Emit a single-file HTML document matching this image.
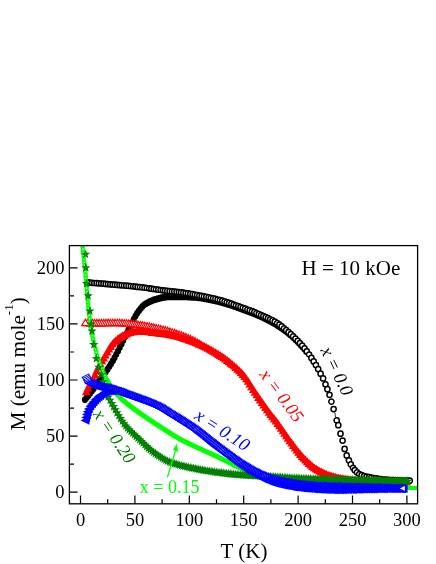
<!DOCTYPE html>
<html>
<head>
<meta charset="utf-8">
<title>M(T), H = 10 kOe</title>
<style>
html,body{margin:0;padding:0;background:#fff;}
body{width:436px;height:564px;overflow:hidden;}
svg{display:block;}

text{font-family:"Liberation Serif",serif;}
</style>
</head>
<body>
<svg width="436" height="564" viewBox="0 0 436 564">
<rect width="436" height="564" fill="#fff"/>
<defs><filter id="nf" x="0" y="0" width="436" height="564" filterUnits="userSpaceOnUse"><feOffset dx="0" dy="0"/></filter><clipPath id="c"><rect x="69.4" y="245.6" width="348.2" height="258.2"/></clipPath></defs>
<g clip-path="url(#c)">
<g fill="#000" fill-opacity="1" stroke="none" stroke-width="0" stroke-linejoin="miter"><path d="M82 399.6a3 3 0 1 0 5.9 0a3 3 0 1 0 -5.9 0zM83.8 397.6a3 3 0 1 0 5.9 0a3 3 0 1 0 -5.9 0zM85.5 395.5a3 3 0 1 0 5.9 0a3 3 0 1 0 -5.9 0zM87.2 393.4a3 3 0 1 0 5.9 0a3 3 0 1 0 -5.9 0zM89 391.1a3 3 0 1 0 5.9 0a3 3 0 1 0 -5.9 0zM90.7 388.7a3 3 0 1 0 5.9 0a3 3 0 1 0 -5.9 0zM92.5 386.1a3 3 0 1 0 5.9 0a3 3 0 1 0 -5.9 0zM94.2 383.6a3 3 0 1 0 5.9 0a3 3 0 1 0 -5.9 0zM95.9 381a3 3 0 1 0 5.9 0a3 3 0 1 0 -5.9 0zM97.7 378.6a3 3 0 1 0 5.9 0a3 3 0 1 0 -5.9 0zM99.4 376.3a3 3 0 1 0 5.9 0a3 3 0 1 0 -5.9 0zM101.2 374.1a3 3 0 1 0 5.9 0a3 3 0 1 0 -5.9 0zM102.9 371.7a3 3 0 1 0 5.9 0a3 3 0 1 0 -5.9 0zM104.6 369.2a3 3 0 1 0 5.9 0a3 3 0 1 0 -5.9 0zM106.4 366.5a3 3 0 1 0 5.9 0a3 3 0 1 0 -5.9 0zM108.1 363.7a3 3 0 1 0 5.9 0a3 3 0 1 0 -5.9 0zM109.9 360.8a3 3 0 1 0 5.9 0a3 3 0 1 0 -5.9 0zM111.6 357.7a3 3 0 1 0 5.9 0a3 3 0 1 0 -5.9 0zM113.3 354.4a3 3 0 1 0 5.9 0a3 3 0 1 0 -5.9 0zM115.1 351a3 3 0 1 0 5.9 0a3 3 0 1 0 -5.9 0zM116.8 347.5a3 3 0 1 0 5.9 0a3 3 0 1 0 -5.9 0zM118.6 344a3 3 0 1 0 5.9 0a3 3 0 1 0 -5.9 0zM120.3 340.5a3 3 0 1 0 5.9 0a3 3 0 1 0 -5.9 0zM122 336.9a3 3 0 1 0 5.9 0a3 3 0 1 0 -5.9 0zM123.8 333.4a3 3 0 1 0 5.9 0a3 3 0 1 0 -5.9 0zM125.5 329.9a3 3 0 1 0 5.9 0a3 3 0 1 0 -5.9 0zM127.3 326.4a3 3 0 1 0 5.9 0a3 3 0 1 0 -5.9 0zM129 322.7a3 3 0 1 0 5.9 0a3 3 0 1 0 -5.9 0zM130.8 319.2a3 3 0 1 0 5.9 0a3 3 0 1 0 -5.9 0zM132.5 316.1a3 3 0 1 0 5.9 0a3 3 0 1 0 -5.9 0zM134.2 313.3a3 3 0 1 0 5.9 0a3 3 0 1 0 -5.9 0zM136 310.8a3 3 0 1 0 5.9 0a3 3 0 1 0 -5.9 0zM137.7 308.6a3 3 0 1 0 5.9 0a3 3 0 1 0 -5.9 0zM139.5 306.5a3 3 0 1 0 5.9 0a3 3 0 1 0 -5.9 0zM141.2 304.9a3 3 0 1 0 5.9 0a3 3 0 1 0 -5.9 0zM142.9 303.7a3 3 0 1 0 5.9 0a3 3 0 1 0 -5.9 0zM144.7 302.7a3 3 0 1 0 5.9 0a3 3 0 1 0 -5.9 0zM146.4 301.8a3 3 0 1 0 5.9 0a3 3 0 1 0 -5.9 0zM148.2 301.1a3 3 0 1 0 5.9 0a3 3 0 1 0 -5.9 0zM149.9 300.4a3 3 0 1 0 5.9 0a3 3 0 1 0 -5.9 0zM151.6 299.8a3 3 0 1 0 5.9 0a3 3 0 1 0 -5.9 0zM153.4 299.2a3 3 0 1 0 5.9 0a3 3 0 1 0 -5.9 0zM155.1 298.8a3 3 0 1 0 5.9 0a3 3 0 1 0 -5.9 0zM156.9 298.3a3 3 0 1 0 5.9 0a3 3 0 1 0 -5.9 0zM158.6 297.9a3 3 0 1 0 5.9 0a3 3 0 1 0 -5.9 0zM160.3 297.5a3 3 0 1 0 5.9 0a3 3 0 1 0 -5.9 0zM162.1 297.2a3 3 0 1 0 5.9 0a3 3 0 1 0 -5.9 0zM163.8 296.9a3 3 0 1 0 5.9 0a3 3 0 1 0 -5.9 0zM165.6 296.7a3 3 0 1 0 5.9 0a3 3 0 1 0 -5.9 0zM167.3 296.7a3 3 0 1 0 5.9 0a3 3 0 1 0 -5.9 0zM169.1 296.7a3 3 0 1 0 5.9 0a3 3 0 1 0 -5.9 0zM170.8 296.7a3 3 0 1 0 5.9 0a3 3 0 1 0 -5.9 0zM172.5 296.7a3 3 0 1 0 5.9 0a3 3 0 1 0 -5.9 0zM174.3 296.7a3 3 0 1 0 5.9 0a3 3 0 1 0 -5.9 0zM176 296.7a3 3 0 1 0 5.9 0a3 3 0 1 0 -5.9 0zM177.8 296.7a3 3 0 1 0 5.9 0a3 3 0 1 0 -5.9 0zM179.5 296.7a3 3 0 1 0 5.9 0a3 3 0 1 0 -5.9 0zM181.2 296.8a3 3 0 1 0 5.9 0a3 3 0 1 0 -5.9 0zM183 296.8a3 3 0 1 0 5.9 0a3 3 0 1 0 -5.9 0zM184.7 296.9a3 3 0 1 0 5.9 0a3 3 0 1 0 -5.9 0zM186.5 297a3 3 0 1 0 5.9 0a3 3 0 1 0 -5.9 0zM188.2 297.1a3 3 0 1 0 5.9 0a3 3 0 1 0 -5.9 0zM189.9 297.2a3 3 0 1 0 5.9 0a3 3 0 1 0 -5.9 0zM191.7 297.3a3 3 0 1 0 5.9 0a3 3 0 1 0 -5.9 0zM193.4 297.4a3 3 0 1 0 5.9 0a3 3 0 1 0 -5.9 0zM195.2 297.6a3 3 0 1 0 5.9 0a3 3 0 1 0 -5.9 0zM196.9 297.8a3 3 0 1 0 5.9 0a3 3 0 1 0 -5.9 0zM198.6 298.1a3 3 0 1 0 5.9 0a3 3 0 1 0 -5.9 0zM200.4 298.4a3 3 0 1 0 5.9 0a3 3 0 1 0 -5.9 0zM202.1 298.7a3 3 0 1 0 5.9 0a3 3 0 1 0 -5.9 0zM203.9 299a3 3 0 1 0 5.9 0a3 3 0 1 0 -5.9 0zM205.6 299.4a3 3 0 1 0 5.9 0a3 3 0 1 0 -5.9 0zM207.3 299.7a3 3 0 1 0 5.9 0a3 3 0 1 0 -5.9 0zM209.1 300.1a3 3 0 1 0 5.9 0a3 3 0 1 0 -5.9 0zM210.8 300.5a3 3 0 1 0 5.9 0a3 3 0 1 0 -5.9 0zM212.6 300.9a3 3 0 1 0 5.9 0a3 3 0 1 0 -5.9 0zM214.3 301.3a3 3 0 1 0 5.9 0a3 3 0 1 0 -5.9 0zM216.1 301.7a3 3 0 1 0 5.9 0a3 3 0 1 0 -5.9 0zM217.8 302.2a3 3 0 1 0 5.9 0a3 3 0 1 0 -5.9 0zM219.5 302.6a3 3 0 1 0 5.9 0a3 3 0 1 0 -5.9 0zM221.3 303.1a3 3 0 1 0 5.9 0a3 3 0 1 0 -5.9 0zM223 303.6a3 3 0 1 0 5.9 0a3 3 0 1 0 -5.9 0zM224.8 304.2a3 3 0 1 0 5.9 0a3 3 0 1 0 -5.9 0zM226.5 304.7a3 3 0 1 0 5.9 0a3 3 0 1 0 -5.9 0zM228.2 305.3a3 3 0 1 0 5.9 0a3 3 0 1 0 -5.9 0zM230 305.9a3 3 0 1 0 5.9 0a3 3 0 1 0 -5.9 0zM231.7 306.5a3 3 0 1 0 5.9 0a3 3 0 1 0 -5.9 0zM233.5 307.1a3 3 0 1 0 5.9 0a3 3 0 1 0 -5.9 0zM235.2 307.8a3 3 0 1 0 5.9 0a3 3 0 1 0 -5.9 0zM236.9 308.4a3 3 0 1 0 5.9 0a3 3 0 1 0 -5.9 0zM238.7 309a3 3 0 1 0 5.9 0a3 3 0 1 0 -5.9 0zM240.4 309.7a3 3 0 1 0 5.9 0a3 3 0 1 0 -5.9 0zM242.2 310.3a3 3 0 1 0 5.9 0a3 3 0 1 0 -5.9 0zM243.9 311a3 3 0 1 0 5.9 0a3 3 0 1 0 -5.9 0zM245.6 311.6a3 3 0 1 0 5.9 0a3 3 0 1 0 -5.9 0zM247.4 312.3a3 3 0 1 0 5.9 0a3 3 0 1 0 -5.9 0zM249.1 312.9a3 3 0 1 0 5.9 0a3 3 0 1 0 -5.9 0zM250.9 313.6a3 3 0 1 0 5.9 0a3 3 0 1 0 -5.9 0zM252.6 314.3a3 3 0 1 0 5.9 0a3 3 0 1 0 -5.9 0zM254.3 315.1a3 3 0 1 0 5.9 0a3 3 0 1 0 -5.9 0zM256.1 315.8a3 3 0 1 0 5.9 0a3 3 0 1 0 -5.9 0zM257.8 316.6a3 3 0 1 0 5.9 0a3 3 0 1 0 -5.9 0zM259.6 317.4a3 3 0 1 0 5.9 0a3 3 0 1 0 -5.9 0zM261.3 318.3a3 3 0 1 0 5.9 0a3 3 0 1 0 -5.9 0zM263.1 319.1a3 3 0 1 0 5.9 0a3 3 0 1 0 -5.9 0zM264.8 320a3 3 0 1 0 5.9 0a3 3 0 1 0 -5.9 0zM266.5 320.9a3 3 0 1 0 5.9 0a3 3 0 1 0 -5.9 0zM268.3 321.9a3 3 0 1 0 5.9 0a3 3 0 1 0 -5.9 0zM270 322.9a3 3 0 1 0 5.9 0a3 3 0 1 0 -5.9 0zM271.8 323.9a3 3 0 1 0 5.9 0a3 3 0 1 0 -5.9 0zM273.5 324.9a3 3 0 1 0 5.9 0a3 3 0 1 0 -5.9 0zM275.2 326a3 3 0 1 0 5.9 0a3 3 0 1 0 -5.9 0zM277 327.1a3 3 0 1 0 5.9 0a3 3 0 1 0 -5.9 0zM278.7 328.3a3 3 0 1 0 5.9 0a3 3 0 1 0 -5.9 0zM280.5 329.5a3 3 0 1 0 5.9 0a3 3 0 1 0 -5.9 0zM282.2 330.8a3 3 0 1 0 5.9 0a3 3 0 1 0 -5.9 0zM283.9 332.1a3 3 0 1 0 5.9 0a3 3 0 1 0 -5.9 0zM285.7 333.5a3 3 0 1 0 5.9 0a3 3 0 1 0 -5.9 0zM287.4 335a3 3 0 1 0 5.9 0a3 3 0 1 0 -5.9 0zM289.2 336.5a3 3 0 1 0 5.9 0a3 3 0 1 0 -5.9 0zM290.9 338.1a3 3 0 1 0 5.9 0a3 3 0 1 0 -5.9 0zM292.6 339.8a3 3 0 1 0 5.9 0a3 3 0 1 0 -5.9 0zM294.4 341.5a3 3 0 1 0 5.9 0a3 3 0 1 0 -5.9 0zM296.1 343.3a3 3 0 1 0 5.9 0a3 3 0 1 0 -5.9 0zM297.9 345.2a3 3 0 1 0 5.9 0a3 3 0 1 0 -5.9 0zM299.6 347.1a3 3 0 1 0 5.9 0a3 3 0 1 0 -5.9 0zM301.4 349.1a3 3 0 1 0 5.9 0a3 3 0 1 0 -5.9 0zM303.1 351.3a3 3 0 1 0 5.9 0a3 3 0 1 0 -5.9 0zM404.7 481a3 3 0 1 0 5.9 0a3 3 0 1 0 -5.9 0z"/></g>
<path d="M334.8 412.4L335.6 417.4" stroke="#000" stroke-width="0.8" fill="none"/>
<g fill="#fff" fill-opacity="1" stroke="#000" stroke-width="1.5" stroke-linejoin="miter"><path d="M84.9 282.2a2.6 2.6 0 1 0 5.2 0a2.6 2.6 0 1 0 -5.2 0z"/>
<path d="M87.1 282.5a2.6 2.6 0 1 0 5.2 0a2.6 2.6 0 1 0 -5.2 0z"/>
<path d="M89.4 282.8a2.6 2.6 0 1 0 5.2 0a2.6 2.6 0 1 0 -5.2 0z"/>
<path d="M91.7 283a2.6 2.6 0 1 0 5.2 0a2.6 2.6 0 1 0 -5.2 0z"/>
<path d="M94 283.1a2.6 2.6 0 1 0 5.2 0a2.6 2.6 0 1 0 -5.2 0z"/>
<path d="M96.3 283.3a2.6 2.6 0 1 0 5.2 0a2.6 2.6 0 1 0 -5.2 0z"/>
<path d="M98.6 283.5a2.6 2.6 0 1 0 5.2 0a2.6 2.6 0 1 0 -5.2 0z"/>
<path d="M100.9 283.7a2.6 2.6 0 1 0 5.2 0a2.6 2.6 0 1 0 -5.2 0z"/>
<path d="M103.1 283.9a2.6 2.6 0 1 0 5.2 0a2.6 2.6 0 1 0 -5.2 0z"/>
<path d="M105.4 284.1a2.6 2.6 0 1 0 5.2 0a2.6 2.6 0 1 0 -5.2 0z"/>
<path d="M107.7 284.3a2.6 2.6 0 1 0 5.2 0a2.6 2.6 0 1 0 -5.2 0z"/>
<path d="M110 284.5a2.6 2.6 0 1 0 5.2 0a2.6 2.6 0 1 0 -5.2 0z"/>
<path d="M112.3 284.7a2.6 2.6 0 1 0 5.2 0a2.6 2.6 0 1 0 -5.2 0z"/>
<path d="M114.6 284.9a2.6 2.6 0 1 0 5.2 0a2.6 2.6 0 1 0 -5.2 0z"/>
<path d="M116.9 285.1a2.6 2.6 0 1 0 5.2 0a2.6 2.6 0 1 0 -5.2 0z"/>
<path d="M119.1 285.3a2.6 2.6 0 1 0 5.2 0a2.6 2.6 0 1 0 -5.2 0z"/>
<path d="M121.4 285.5a2.6 2.6 0 1 0 5.2 0a2.6 2.6 0 1 0 -5.2 0z"/>
<path d="M123.7 285.7a2.6 2.6 0 1 0 5.2 0a2.6 2.6 0 1 0 -5.2 0z"/>
<path d="M126 285.9a2.6 2.6 0 1 0 5.2 0a2.6 2.6 0 1 0 -5.2 0z"/>
<path d="M128.3 286.2a2.6 2.6 0 1 0 5.2 0a2.6 2.6 0 1 0 -5.2 0z"/>
<path d="M130.6 286.4a2.6 2.6 0 1 0 5.2 0a2.6 2.6 0 1 0 -5.2 0z"/>
<path d="M132.8 286.6a2.6 2.6 0 1 0 5.2 0a2.6 2.6 0 1 0 -5.2 0z"/>
<path d="M135.1 286.9a2.6 2.6 0 1 0 5.2 0a2.6 2.6 0 1 0 -5.2 0z"/>
<path d="M137.4 287.1a2.6 2.6 0 1 0 5.2 0a2.6 2.6 0 1 0 -5.2 0z"/>
<path d="M139.7 287.4a2.6 2.6 0 1 0 5.2 0a2.6 2.6 0 1 0 -5.2 0z"/>
<path d="M142 287.7a2.6 2.6 0 1 0 5.2 0a2.6 2.6 0 1 0 -5.2 0z"/>
<path d="M144.3 288a2.6 2.6 0 1 0 5.2 0a2.6 2.6 0 1 0 -5.2 0z"/>
<path d="M146.6 288.3a2.6 2.6 0 1 0 5.2 0a2.6 2.6 0 1 0 -5.2 0z"/>
<path d="M148.8 288.7a2.6 2.6 0 1 0 5.2 0a2.6 2.6 0 1 0 -5.2 0z"/>
<path d="M151.1 289a2.6 2.6 0 1 0 5.2 0a2.6 2.6 0 1 0 -5.2 0z"/>
<path d="M153.4 289.3a2.6 2.6 0 1 0 5.2 0a2.6 2.6 0 1 0 -5.2 0z"/>
<path d="M155.7 289.7a2.6 2.6 0 1 0 5.2 0a2.6 2.6 0 1 0 -5.2 0z"/>
<path d="M158 290a2.6 2.6 0 1 0 5.2 0a2.6 2.6 0 1 0 -5.2 0z"/>
<path d="M160.3 290.3a2.6 2.6 0 1 0 5.2 0a2.6 2.6 0 1 0 -5.2 0z"/>
<path d="M162.5 290.6a2.6 2.6 0 1 0 5.2 0a2.6 2.6 0 1 0 -5.2 0z"/>
<path d="M164.8 290.9a2.6 2.6 0 1 0 5.2 0a2.6 2.6 0 1 0 -5.2 0z"/>
<path d="M167.1 291.2a2.6 2.6 0 1 0 5.2 0a2.6 2.6 0 1 0 -5.2 0z"/>
<path d="M169.4 291.4a2.6 2.6 0 1 0 5.2 0a2.6 2.6 0 1 0 -5.2 0z"/>
<path d="M171.7 291.6a2.6 2.6 0 1 0 5.2 0a2.6 2.6 0 1 0 -5.2 0z"/>
<path d="M174 291.8a2.6 2.6 0 1 0 5.2 0a2.6 2.6 0 1 0 -5.2 0z"/>
<path d="M176.3 292.1a2.6 2.6 0 1 0 5.2 0a2.6 2.6 0 1 0 -5.2 0z"/>
<path d="M178.5 292.3a2.6 2.6 0 1 0 5.2 0a2.6 2.6 0 1 0 -5.2 0z"/>
<path d="M180.8 292.7a2.6 2.6 0 1 0 5.2 0a2.6 2.6 0 1 0 -5.2 0z"/>
<path d="M183.1 293a2.6 2.6 0 1 0 5.2 0a2.6 2.6 0 1 0 -5.2 0z"/>
<path d="M185.4 293.4a2.6 2.6 0 1 0 5.2 0a2.6 2.6 0 1 0 -5.2 0z"/>
<path d="M187.7 293.8a2.6 2.6 0 1 0 5.2 0a2.6 2.6 0 1 0 -5.2 0z"/>
<path d="M190 294.2a2.6 2.6 0 1 0 5.2 0a2.6 2.6 0 1 0 -5.2 0z"/>
<path d="M192.2 294.6a2.6 2.6 0 1 0 5.2 0a2.6 2.6 0 1 0 -5.2 0z"/>
<path d="M194.5 295a2.6 2.6 0 1 0 5.2 0a2.6 2.6 0 1 0 -5.2 0z"/>
<path d="M196.8 295.5a2.6 2.6 0 1 0 5.2 0a2.6 2.6 0 1 0 -5.2 0z"/>
<path d="M199.1 295.9a2.6 2.6 0 1 0 5.2 0a2.6 2.6 0 1 0 -5.2 0z"/>
<path d="M201.4 296.4a2.6 2.6 0 1 0 5.2 0a2.6 2.6 0 1 0 -5.2 0z"/>
<path d="M203.7 296.8a2.6 2.6 0 1 0 5.2 0a2.6 2.6 0 1 0 -5.2 0z"/>
<path d="M206 297.3a2.6 2.6 0 1 0 5.2 0a2.6 2.6 0 1 0 -5.2 0z"/>
<path d="M208.2 297.8a2.6 2.6 0 1 0 5.2 0a2.6 2.6 0 1 0 -5.2 0z"/>
<path d="M210.5 298.4a2.6 2.6 0 1 0 5.2 0a2.6 2.6 0 1 0 -5.2 0z"/>
<path d="M212.8 298.9a2.6 2.6 0 1 0 5.2 0a2.6 2.6 0 1 0 -5.2 0z"/>
<path d="M215.1 299.5a2.6 2.6 0 1 0 5.2 0a2.6 2.6 0 1 0 -5.2 0z"/>
<path d="M217.4 300.1a2.6 2.6 0 1 0 5.2 0a2.6 2.6 0 1 0 -5.2 0z"/>
<path d="M219.7 300.7a2.6 2.6 0 1 0 5.2 0a2.6 2.6 0 1 0 -5.2 0z"/>
<path d="M222 301.4a2.6 2.6 0 1 0 5.2 0a2.6 2.6 0 1 0 -5.2 0z"/>
<path d="M224.2 302.2a2.6 2.6 0 1 0 5.2 0a2.6 2.6 0 1 0 -5.2 0z"/>
<path d="M226.5 302.9a2.6 2.6 0 1 0 5.2 0a2.6 2.6 0 1 0 -5.2 0z"/>
<path d="M228.8 303.7a2.6 2.6 0 1 0 5.2 0a2.6 2.6 0 1 0 -5.2 0z"/>
<path d="M231.1 304.5a2.6 2.6 0 1 0 5.2 0a2.6 2.6 0 1 0 -5.2 0z"/>
<path d="M233.4 305.3a2.6 2.6 0 1 0 5.2 0a2.6 2.6 0 1 0 -5.2 0z"/>
<path d="M235.7 306.1a2.6 2.6 0 1 0 5.2 0a2.6 2.6 0 1 0 -5.2 0z"/>
<path d="M237.9 307a2.6 2.6 0 1 0 5.2 0a2.6 2.6 0 1 0 -5.2 0z"/>
<path d="M240.2 307.8a2.6 2.6 0 1 0 5.2 0a2.6 2.6 0 1 0 -5.2 0z"/>
<path d="M242.5 308.6a2.6 2.6 0 1 0 5.2 0a2.6 2.6 0 1 0 -5.2 0z"/>
<path d="M244.8 309.5a2.6 2.6 0 1 0 5.2 0a2.6 2.6 0 1 0 -5.2 0z"/>
<path d="M247.1 310.3a2.6 2.6 0 1 0 5.2 0a2.6 2.6 0 1 0 -5.2 0z"/>
<path d="M249.4 311.2a2.6 2.6 0 1 0 5.2 0a2.6 2.6 0 1 0 -5.2 0z"/>
<path d="M251.7 312.1a2.6 2.6 0 1 0 5.2 0a2.6 2.6 0 1 0 -5.2 0z"/>
<path d="M253.9 313.1a2.6 2.6 0 1 0 5.2 0a2.6 2.6 0 1 0 -5.2 0z"/>
<path d="M256.2 314.1a2.6 2.6 0 1 0 5.2 0a2.6 2.6 0 1 0 -5.2 0z"/>
<path d="M258.5 315.1a2.6 2.6 0 1 0 5.2 0a2.6 2.6 0 1 0 -5.2 0z"/>
<path d="M260.8 316.1a2.6 2.6 0 1 0 5.2 0a2.6 2.6 0 1 0 -5.2 0z"/>
<path d="M263.1 317.2a2.6 2.6 0 1 0 5.2 0a2.6 2.6 0 1 0 -5.2 0z"/>
<path d="M265.4 318.2a2.6 2.6 0 1 0 5.2 0a2.6 2.6 0 1 0 -5.2 0z"/>
<path d="M267.6 319.3a2.6 2.6 0 1 0 5.2 0a2.6 2.6 0 1 0 -5.2 0z"/>
<path d="M269.9 320.4a2.6 2.6 0 1 0 5.2 0a2.6 2.6 0 1 0 -5.2 0z"/>
<path d="M272.2 321.6a2.6 2.6 0 1 0 5.2 0a2.6 2.6 0 1 0 -5.2 0z"/>
<path d="M274.5 323a2.6 2.6 0 1 0 5.2 0a2.6 2.6 0 1 0 -5.2 0z"/>
<path d="M276.8 324.7a2.6 2.6 0 1 0 5.2 0a2.6 2.6 0 1 0 -5.2 0z"/>
<path d="M279.1 326.4a2.6 2.6 0 1 0 5.2 0a2.6 2.6 0 1 0 -5.2 0z"/>
<path d="M281.4 328.3a2.6 2.6 0 1 0 5.2 0a2.6 2.6 0 1 0 -5.2 0z"/>
<path d="M283.6 330.2a2.6 2.6 0 1 0 5.2 0a2.6 2.6 0 1 0 -5.2 0z"/>
<path d="M285.9 332.2a2.6 2.6 0 1 0 5.2 0a2.6 2.6 0 1 0 -5.2 0z"/>
<path d="M288.2 334.2a2.6 2.6 0 1 0 5.2 0a2.6 2.6 0 1 0 -5.2 0z"/>
<path d="M290.5 336.4a2.6 2.6 0 1 0 5.2 0a2.6 2.6 0 1 0 -5.2 0z"/>
<path d="M292.8 338.6a2.6 2.6 0 1 0 5.2 0a2.6 2.6 0 1 0 -5.2 0z"/>
<path d="M295.1 340.8a2.6 2.6 0 1 0 5.2 0a2.6 2.6 0 1 0 -5.2 0z"/>
<path d="M297.3 343.1a2.6 2.6 0 1 0 5.2 0a2.6 2.6 0 1 0 -5.2 0z"/>
<path d="M299.6 345.6a2.6 2.6 0 1 0 5.2 0a2.6 2.6 0 1 0 -5.2 0z"/>
<path d="M301.9 348.3a2.6 2.6 0 1 0 5.2 0a2.6 2.6 0 1 0 -5.2 0z"/>
<path d="M304.2 351.3a2.6 2.6 0 1 0 5.2 0a2.6 2.6 0 1 0 -5.2 0z"/>
<path d="M306.5 354.5a2.6 2.6 0 1 0 5.2 0a2.6 2.6 0 1 0 -5.2 0z"/>
<path d="M308.8 357.9a2.6 2.6 0 1 0 5.2 0a2.6 2.6 0 1 0 -5.2 0z"/>
<path d="M311.1 361.4a2.6 2.6 0 1 0 5.2 0a2.6 2.6 0 1 0 -5.2 0z"/>
<path d="M313.3 365.1a2.6 2.6 0 1 0 5.2 0a2.6 2.6 0 1 0 -5.2 0z"/>
<path d="M315.6 369.1a2.6 2.6 0 1 0 5.2 0a2.6 2.6 0 1 0 -5.2 0z"/>
<path d="M318 373.7a2.6 2.6 0 1 0 5.2 0a2.6 2.6 0 1 0 -5.2 0z"/>
<path d="M320.5 378.4a2.6 2.6 0 1 0 5.2 0a2.6 2.6 0 1 0 -5.2 0z"/>
<path d="M322.9 384.3a2.6 2.6 0 1 0 5.2 0a2.6 2.6 0 1 0 -5.2 0z"/>
<path d="M324.8 389.2a2.6 2.6 0 1 0 5.2 0a2.6 2.6 0 1 0 -5.2 0z"/>
<path d="M326.9 394.8a2.6 2.6 0 1 0 5.2 0a2.6 2.6 0 1 0 -5.2 0z"/>
<path d="M328.8 401.6a2.6 2.6 0 1 0 5.2 0a2.6 2.6 0 1 0 -5.2 0z"/>
<path d="M331 409.1a2.6 2.6 0 1 0 5.2 0a2.6 2.6 0 1 0 -5.2 0z"/>
<path d="M334.1 420.4a2.6 2.6 0 1 0 5.2 0a2.6 2.6 0 1 0 -5.2 0z"/>
<path d="M335.7 425.2a2.6 2.6 0 1 0 5.2 0a2.6 2.6 0 1 0 -5.2 0z"/>
<path d="M337.9 433.7a2.6 2.6 0 1 0 5.2 0a2.6 2.6 0 1 0 -5.2 0z"/>
<path d="M340 440.6a2.6 2.6 0 1 0 5.2 0a2.6 2.6 0 1 0 -5.2 0z"/>
<path d="M342 448.9a2.6 2.6 0 1 0 5.2 0a2.6 2.6 0 1 0 -5.2 0z"/>
<path d="M344.1 455.4a2.6 2.6 0 1 0 5.2 0a2.6 2.6 0 1 0 -5.2 0z"/>
<path d="M346.3 460.3a2.6 2.6 0 1 0 5.2 0a2.6 2.6 0 1 0 -5.2 0z"/>
<path d="M348.2 464.4a2.6 2.6 0 1 0 5.2 0a2.6 2.6 0 1 0 -5.2 0z"/>
<path d="M350.4 467.8a2.6 2.6 0 1 0 5.2 0a2.6 2.6 0 1 0 -5.2 0z"/>
<path d="M352.2 470.2a2.6 2.6 0 1 0 5.2 0a2.6 2.6 0 1 0 -5.2 0z"/>
<path d="M354.4 472.4a2.6 2.6 0 1 0 5.2 0a2.6 2.6 0 1 0 -5.2 0z"/>
<path d="M356.6 474a2.6 2.6 0 1 0 5.2 0a2.6 2.6 0 1 0 -5.2 0z"/>
<path d="M359 475.2a2.6 2.6 0 1 0 5.2 0a2.6 2.6 0 1 0 -5.2 0z"/>
<path d="M361.5 476.1a2.6 2.6 0 1 0 5.2 0a2.6 2.6 0 1 0 -5.2 0z"/>
<path d="M364 476.7a2.6 2.6 0 1 0 5.2 0a2.6 2.6 0 1 0 -5.2 0z"/>
<path d="M366.4 477.2a2.6 2.6 0 1 0 5.2 0a2.6 2.6 0 1 0 -5.2 0z"/>
<path d="M368.8 477.6a2.6 2.6 0 1 0 5.2 0a2.6 2.6 0 1 0 -5.2 0z"/>
<path d="M371.2 478a2.6 2.6 0 1 0 5.2 0a2.6 2.6 0 1 0 -5.2 0z"/>
<path d="M373.6 478.4a2.6 2.6 0 1 0 5.2 0a2.6 2.6 0 1 0 -5.2 0z"/>
<path d="M376 478.8a2.6 2.6 0 1 0 5.2 0a2.6 2.6 0 1 0 -5.2 0z"/>
<path d="M378.4 479.2a2.6 2.6 0 1 0 5.2 0a2.6 2.6 0 1 0 -5.2 0z"/>
<path d="M380.8 479.5a2.6 2.6 0 1 0 5.2 0a2.6 2.6 0 1 0 -5.2 0z"/>
<path d="M383.2 479.7a2.6 2.6 0 1 0 5.2 0a2.6 2.6 0 1 0 -5.2 0z"/>
<path d="M385.6 479.9a2.6 2.6 0 1 0 5.2 0a2.6 2.6 0 1 0 -5.2 0z"/>
<path d="M388 480.1a2.6 2.6 0 1 0 5.2 0a2.6 2.6 0 1 0 -5.2 0z"/>
<path d="M390.4 480.2a2.6 2.6 0 1 0 5.2 0a2.6 2.6 0 1 0 -5.2 0z"/>
<path d="M392.8 480.3a2.6 2.6 0 1 0 5.2 0a2.6 2.6 0 1 0 -5.2 0z"/>
<path d="M395.2 480.4a2.6 2.6 0 1 0 5.2 0a2.6 2.6 0 1 0 -5.2 0z"/>
<path d="M397.6 480.5a2.6 2.6 0 1 0 5.2 0a2.6 2.6 0 1 0 -5.2 0z"/>
<path d="M399.9 480.6a2.6 2.6 0 1 0 5.2 0a2.6 2.6 0 1 0 -5.2 0z"/>
<path d="M402.3 480.6a2.6 2.6 0 1 0 5.2 0a2.6 2.6 0 1 0 -5.2 0z"/>
<path d="M404.7 480.7a2.6 2.6 0 1 0 5.2 0a2.6 2.6 0 1 0 -5.2 0z"/>
<path d="M407.1 480.7a2.6 2.6 0 1 0 5.2 0a2.6 2.6 0 1 0 -5.2 0z"/></g>
<g fill="#fff" fill-opacity="1" stroke="#ff0000" stroke-width="1.2" stroke-linejoin="miter"><path d="M199.6 340.4l3.7 6.4h-7.4z"/>
<path d="M197.4 339.1l3.7 6.4h-7.4z"/>
<path d="M195.1 337.8l3.7 6.4h-7.4z"/>
<path d="M192.8 336.6l3.7 6.4h-7.4z"/>
<path d="M190.5 335.5l3.7 6.4h-7.4z"/>
<path d="M188.2 334.5l3.7 6.4h-7.4z"/>
<path d="M185.9 333.6l3.7 6.4h-7.4z"/>
<path d="M183.6 332.7l3.7 6.4h-7.4z"/>
<path d="M181.4 331.8l3.7 6.4h-7.4z"/>
<path d="M179.1 331l3.7 6.4h-7.4z"/>
<path d="M176.8 330.2l3.7 6.4h-7.4z"/>
<path d="M174.5 329.4l3.7 6.4h-7.4z"/>
<path d="M172.2 328.7l3.7 6.4h-7.4z"/>
<path d="M169.9 328l3.7 6.4h-7.4z"/>
<path d="M167.6 327.3l3.7 6.4h-7.4z"/>
<path d="M165.4 326.7l3.7 6.4h-7.4z"/>
<path d="M163.1 326.1l3.7 6.4h-7.4z"/>
<path d="M160.8 325.5l3.7 6.4h-7.4z"/>
<path d="M158.5 325l3.7 6.4h-7.4z"/>
<path d="M156.2 324.5l3.7 6.4h-7.4z"/>
<path d="M153.9 324l3.7 6.4h-7.4z"/>
<path d="M151.7 323.5l3.7 6.4h-7.4z"/>
<path d="M149.4 323l3.7 6.4h-7.4z"/>
<path d="M147.1 322.6l3.7 6.4h-7.4z"/>
<path d="M144.8 322.2l3.7 6.4h-7.4z"/>
<path d="M142.5 321.8l3.7 6.4h-7.4z"/>
<path d="M140.2 321.4l3.7 6.4h-7.4z"/>
<path d="M137.9 321.1l3.7 6.4h-7.4z"/>
<path d="M135.7 320.8l3.7 6.4h-7.4z"/>
<path d="M133.4 320.6l3.7 6.4h-7.4z"/>
<path d="M131.1 320.3l3.7 6.4h-7.4z"/>
<path d="M128.8 320l3.7 6.4h-7.4z"/>
<path d="M126.5 319.8l3.7 6.4h-7.4z"/>
<path d="M124.2 319.6l3.7 6.4h-7.4z"/>
<path d="M122 319.4l3.7 6.4h-7.4z"/>
<path d="M119.7 319.3l3.7 6.4h-7.4z"/>
<path d="M117.4 319.2l3.7 6.4h-7.4z"/>
<path d="M115.1 319.2l3.7 6.4h-7.4z"/>
<path d="M112.8 319.2l3.7 6.4h-7.4z"/>
<path d="M110.5 319.2l3.7 6.4h-7.4z"/>
<path d="M108.2 319.3l3.7 6.4h-7.4z"/>
<path d="M106 319.3l3.7 6.4h-7.4z"/>
<path d="M103.7 319.4l3.7 6.4h-7.4z"/>
<path d="M101.4 319.4l3.7 6.4h-7.4z"/>
<path d="M99.1 319.4l3.7 6.4h-7.4z"/>
<path d="M96.8 319.4l3.7 6.4h-7.4z"/>
<path d="M94.5 319.4l3.7 6.4h-7.4z"/>
<path d="M92.3 319.4l3.7 6.4h-7.4z"/>
<path d="M90 319.4l3.7 6.4h-7.4z"/>
<path d="M87.7 319.3l3.7 6.4h-7.4z"/>
<path d="M85.4 319.3l3.7 6.4h-7.4z"/></g>
<g fill="#ff0000" fill-opacity="1" stroke="none" stroke-width="0" stroke-linejoin="miter"><path d="M86.3 387.5l4.4 7.8h-8.8zM88 383.6l4.4 7.8h-8.8zM89.7 380.2l4.4 7.8h-8.8zM91.5 377.2l4.4 7.8h-8.8zM93.2 374.2l4.4 7.8h-8.8zM95 370.5l4.4 7.8h-8.8zM96.7 366.4l4.4 7.8h-8.8zM98.5 362.6l4.4 7.8h-8.8zM100.2 359.4l4.4 7.8h-8.8zM101.9 356.5l4.4 7.8h-8.8zM103.7 353.7l4.4 7.8h-8.8zM105.4 350.7l4.4 7.8h-8.8zM107.2 347.7l4.4 7.8h-8.8zM108.9 344.8l4.4 7.8h-8.8zM110.6 342.1l4.4 7.8h-8.8zM112.4 339.7l4.4 7.8h-8.8zM114.1 337.8l4.4 7.8h-8.8zM115.9 336.2l4.4 7.8h-8.8zM117.6 334.7l4.4 7.8h-8.8zM119.3 333.4l4.4 7.8h-8.8zM121.1 332.3l4.4 7.8h-8.8zM122.8 331.3l4.4 7.8h-8.8zM124.6 330.4l4.4 7.8h-8.8zM126.3 329.6l4.4 7.8h-8.8zM128 328.8l4.4 7.8h-8.8zM129.8 328.2l4.4 7.8h-8.8zM131.5 327.8l4.4 7.8h-8.8zM133.3 327.5l4.4 7.8h-8.8zM135 327.3l4.4 7.8h-8.8zM136.7 327.1l4.4 7.8h-8.8zM138.5 327l4.4 7.8h-8.8zM140.2 326.9l4.4 7.8h-8.8zM142 326.9l4.4 7.8h-8.8zM143.7 327l4.4 7.8h-8.8zM145.5 327.1l4.4 7.8h-8.8zM147.2 327.3l4.4 7.8h-8.8zM148.9 327.5l4.4 7.8h-8.8zM150.7 327.8l4.4 7.8h-8.8zM152.4 328.1l4.4 7.8h-8.8zM154.2 328.3l4.4 7.8h-8.8zM155.9 328.5l4.4 7.8h-8.8zM157.6 328.7l4.4 7.8h-8.8zM159.4 328.9l4.4 7.8h-8.8zM161.1 329.1l4.4 7.8h-8.8zM162.9 329.3l4.4 7.8h-8.8zM164.6 329.5l4.4 7.8h-8.8zM166.3 329.7l4.4 7.8h-8.8zM168.1 330l4.4 7.8h-8.8zM169.8 330.3l4.4 7.8h-8.8zM171.6 330.6l4.4 7.8h-8.8zM173.3 331l4.4 7.8h-8.8zM175 331.4l4.4 7.8h-8.8zM176.8 331.8l4.4 7.8h-8.8zM178.5 332.3l4.4 7.8h-8.8zM180.3 332.8l4.4 7.8h-8.8zM182 333.3l4.4 7.8h-8.8zM183.8 333.9l4.4 7.8h-8.8zM185.5 334.4l4.4 7.8h-8.8zM187.2 335l4.4 7.8h-8.8zM189 335.6l4.4 7.8h-8.8zM190.7 336.2l4.4 7.8h-8.8zM192.5 336.9l4.4 7.8h-8.8zM194.2 337.5l4.4 7.8h-8.8zM195.9 338.2l4.4 7.8h-8.8zM197.7 338.9l4.4 7.8h-8.8zM199.4 339.7l4.4 7.8h-8.8zM201.2 340.5l4.4 7.8h-8.8zM202.9 341.3l4.4 7.8h-8.8zM204.6 342.2l4.4 7.8h-8.8zM206.4 343l4.4 7.8h-8.8zM208.1 344l4.4 7.8h-8.8zM209.9 344.9l4.4 7.8h-8.8zM211.6 345.9l4.4 7.8h-8.8zM213.3 346.9l4.4 7.8h-8.8zM215.1 347.9l4.4 7.8h-8.8zM216.8 349l4.4 7.8h-8.8zM218.6 350.1l4.4 7.8h-8.8zM220.3 351.2l4.4 7.8h-8.8zM222 352.3l4.4 7.8h-8.8zM223.8 353.5l4.4 7.8h-8.8zM225.5 354.8l4.4 7.8h-8.8zM227.3 356.1l4.4 7.8h-8.8zM229 357.5l4.4 7.8h-8.8zM230.8 358.9l4.4 7.8h-8.8zM232.5 360.3l4.4 7.8h-8.8zM234.2 361.8l4.4 7.8h-8.8zM236 363.3l4.4 7.8h-8.8zM237.7 364.9l4.4 7.8h-8.8zM239.5 366.5l4.4 7.8h-8.8zM241.2 368.2l4.4 7.8h-8.8zM242.9 370.1l4.4 7.8h-8.8zM244.7 372.1l4.4 7.8h-8.8zM246.4 374.4l4.4 7.8h-8.8zM248.2 377l4.4 7.8h-8.8zM249.9 379.7l4.4 7.8h-8.8zM251.6 382.4l4.4 7.8h-8.8zM253.4 385.2l4.4 7.8h-8.8zM255.1 387.9l4.4 7.8h-8.8zM256.9 390.5l4.4 7.8h-8.8zM258.6 393.1l4.4 7.8h-8.8zM260.3 395.6l4.4 7.8h-8.8zM262.1 398.1l4.4 7.8h-8.8zM263.8 400.6l4.4 7.8h-8.8zM265.6 403.1l4.4 7.8h-8.8zM267.3 405.5l4.4 7.8h-8.8zM269.1 407.9l4.4 7.8h-8.8zM270.8 410.2l4.4 7.8h-8.8zM272.5 412.4l4.4 7.8h-8.8zM274.3 414.6l4.4 7.8h-8.8zM276 416.8l4.4 7.8h-8.8zM277.8 419.1l4.4 7.8h-8.8zM279.5 421.4l4.4 7.8h-8.8zM281.2 423.9l4.4 7.8h-8.8zM283 426.4l4.4 7.8h-8.8zM284.7 429l4.4 7.8h-8.8zM286.5 431.5l4.4 7.8h-8.8zM288.2 434l4.4 7.8h-8.8zM289.9 436.5l4.4 7.8h-8.8zM291.7 438.8l4.4 7.8h-8.8zM293.4 441.1l4.4 7.8h-8.8zM295.2 443.5l4.4 7.8h-8.8zM296.9 445.8l4.4 7.8h-8.8zM298.6 448l4.4 7.8h-8.8zM300.4 450.1l4.4 7.8h-8.8zM302.1 452.1l4.4 7.8h-8.8zM303.9 453.9l4.4 7.8h-8.8zM305.6 455.7l4.4 7.8h-8.8zM307.3 457.4l4.4 7.8h-8.8zM309.1 459.1l4.4 7.8h-8.8zM310.8 460.6l4.4 7.8h-8.8zM312.6 462.1l4.4 7.8h-8.8zM314.3 463.4l4.4 7.8h-8.8zM316.1 464.6l4.4 7.8h-8.8zM317.8 465.7l4.4 7.8h-8.8zM319.5 466.7l4.4 7.8h-8.8zM321.3 467.6l4.4 7.8h-8.8zM323 468.5l4.4 7.8h-8.8zM324.8 469.3l4.4 7.8h-8.8zM326.5 470.1l4.4 7.8h-8.8zM328.2 470.7l4.4 7.8h-8.8zM330 471.3l4.4 7.8h-8.8zM331.7 471.8l4.4 7.8h-8.8zM333.5 472.3l4.4 7.8h-8.8zM335.2 472.8l4.4 7.8h-8.8zM336.9 473.2l4.4 7.8h-8.8zM338.7 473.6l4.4 7.8h-8.8zM340.4 474l4.4 7.8h-8.8zM342.2 474.3l4.4 7.8h-8.8zM343.9 474.6l4.4 7.8h-8.8zM345.6 474.9l4.4 7.8h-8.8zM347.4 475.2l4.4 7.8h-8.8zM349.1 475.4l4.4 7.8h-8.8zM350.9 475.6l4.4 7.8h-8.8zM352.6 475.8l4.4 7.8h-8.8zM354.3 475.9l4.4 7.8h-8.8zM356.1 476l4.4 7.8h-8.8zM357.8 476.1l4.4 7.8h-8.8zM359.6 476.2l4.4 7.8h-8.8zM361.3 476.2l4.4 7.8h-8.8zM363.1 476.3l4.4 7.8h-8.8zM364.8 476.4l4.4 7.8h-8.8zM366.5 476.4l4.4 7.8h-8.8zM368.3 476.5l4.4 7.8h-8.8zM370 476.5l4.4 7.8h-8.8zM371.8 476.6l4.4 7.8h-8.8zM373.5 476.7l4.4 7.8h-8.8zM375.2 476.7l4.4 7.8h-8.8zM377 476.8l4.4 7.8h-8.8zM378.7 476.8l4.4 7.8h-8.8zM380.5 476.9l4.4 7.8h-8.8zM382.2 476.9l4.4 7.8h-8.8zM383.9 477l4.4 7.8h-8.8zM385.7 477l4.4 7.8h-8.8zM387.4 477.1l4.4 7.8h-8.8zM389.2 477.1l4.4 7.8h-8.8zM390.9 477.2l4.4 7.8h-8.8zM392.6 477.2l4.4 7.8h-8.8zM394.4 477.3l4.4 7.8h-8.8zM396.1 477.3l4.4 7.8h-8.8zM397.9 477.4l4.4 7.8h-8.8zM399.6 477.4l4.4 7.8h-8.8zM401.4 477.4l4.4 7.8h-8.8zM403.1 477.5l4.4 7.8h-8.8zM404.8 477.5l4.4 7.8h-8.8zM406.6 477.6l4.4 7.8h-8.8z"/></g>
<g fill="#fff" fill-opacity="1" stroke="#00ff00" stroke-width="1.5" stroke-linejoin="miter"><path d="M80.3 230.6h2.6v2.6h-2.6z"/>
<path d="M80.5 234h2.6v2.6h-2.6z"/>
<path d="M80.7 237.5h2.6v2.6h-2.6z"/>
<path d="M80.9 240.9h2.6v2.6h-2.6z"/>
<path d="M81.2 244.3h2.6v2.6h-2.6z"/>
<path d="M81.5 247.8h2.6v2.6h-2.6z"/>
<path d="M81.8 251.2h2.6v2.6h-2.6z"/>
<path d="M82.2 254.5h2.6v2.6h-2.6z"/>
<path d="M82.6 257.9h2.6v2.6h-2.6z"/>
<path d="M83 261.1h2.6v2.6h-2.6z"/>
<path d="M83.3 264.1h2.6v2.6h-2.6z"/>
<path d="M83.7 267.2h2.6v2.6h-2.6z"/>
<path d="M84 270.4h2.6v2.6h-2.6z"/>
<path d="M84.3 273.6h2.6v2.6h-2.6z"/>
<path d="M84.5 276.9h2.6v2.6h-2.6z"/>
<path d="M84.8 280.2h2.6v2.6h-2.6z"/>
<path d="M85.1 283.6h2.6v2.6h-2.6z"/>
<path d="M85.4 287h2.6v2.6h-2.6z"/>
<path d="M85.7 290.4h2.6v2.6h-2.6z"/>
<path d="M85.9 293.8h2.6v2.6h-2.6z"/>
<path d="M86.2 297.2h2.6v2.6h-2.6z"/>
<path d="M86.5 300.6h2.6v2.6h-2.6z"/>
<path d="M86.9 304h2.6v2.6h-2.6z"/>
<path d="M87.2 307.4h2.6v2.6h-2.6z"/>
<path d="M87.6 310.8h2.6v2.6h-2.6z"/>
<path d="M88 314.1h2.6v2.6h-2.6z"/>
<path d="M88.4 317.5h2.6v2.6h-2.6z"/>
<path d="M88.9 320.9h2.6v2.6h-2.6z"/>
<path d="M89.4 324.3h2.6v2.6h-2.6z"/>
<path d="M89.9 327.6h2.6v2.6h-2.6z"/>
<path d="M90.4 331h2.6v2.6h-2.6z"/>
<path d="M91 334.3h2.6v2.6h-2.6z"/>
<path d="M91.7 337.7h2.6v2.6h-2.6z"/>
<path d="M92.4 341.1h2.6v2.6h-2.6z"/>
<path d="M93.2 344.4h2.6v2.6h-2.6z"/>
<path d="M94.1 347.7h2.6v2.6h-2.6z"/>
<path d="M95 351h2.6v2.6h-2.6z"/>
<path d="M95.9 354.3h2.6v2.6h-2.6z"/>
<path d="M96.9 357.6h2.6v2.6h-2.6z"/>
<path d="M98 360.8h2.6v2.6h-2.6z"/>
<path d="M99.1 363.9h2.6v2.6h-2.6z"/>
<path d="M100.2 366.8h2.6v2.6h-2.6z"/>
<path d="M101.3 369.5h2.6v2.6h-2.6z"/>
<path d="M102.3 371.9h2.6v2.6h-2.6z"/>
<path d="M103.4 374.2h2.6v2.6h-2.6z"/>
<path d="M104.5 376.4h2.6v2.6h-2.6z"/>
<path d="M105.6 378.4h2.6v2.6h-2.6z"/>
<path d="M106.7 380.2h2.6v2.6h-2.6z"/>
<path d="M107.8 382h2.6v2.6h-2.6z"/>
<path d="M108.9 383.7h2.6v2.6h-2.6z"/>
<path d="M110 385.3h2.6v2.6h-2.6z"/>
<path d="M111 386.8h2.6v2.6h-2.6z"/>
<path d="M112.1 388.3h2.6v2.6h-2.6z"/>
<path d="M113.2 389.8h2.6v2.6h-2.6z"/>
<path d="M114.3 391.2h2.6v2.6h-2.6z"/>
<path d="M115.4 392.5h2.6v2.6h-2.6z"/>
<path d="M116.5 393.8h2.6v2.6h-2.6z"/>
<path d="M117.6 395h2.6v2.6h-2.6z"/>
<path d="M118.7 396.1h2.6v2.6h-2.6z"/>
<path d="M119.7 397.2h2.6v2.6h-2.6z"/>
<path d="M120.8 398.2h2.6v2.6h-2.6z"/>
<path d="M121.9 399.2h2.6v2.6h-2.6z"/>
<path d="M123 400.1h2.6v2.6h-2.6z"/>
<path d="M124.1 401h2.6v2.6h-2.6z"/>
<path d="M125.2 401.9h2.6v2.6h-2.6z"/>
<path d="M126.3 402.8h2.6v2.6h-2.6z"/>
<path d="M127.4 403.6h2.6v2.6h-2.6z"/>
<path d="M128.5 404.4h2.6v2.6h-2.6z"/>
<path d="M129.5 405.2h2.6v2.6h-2.6z"/>
<path d="M130.6 406.1h2.6v2.6h-2.6z"/>
<path d="M131.7 406.9h2.6v2.6h-2.6z"/>
<path d="M132.8 407.7h2.6v2.6h-2.6z"/>
<path d="M133.9 408.5h2.6v2.6h-2.6z"/>
<path d="M135 409.3h2.6v2.6h-2.6z"/>
<path d="M136.1 410.1h2.6v2.6h-2.6z"/>
<path d="M137.2 410.9h2.6v2.6h-2.6z"/>
<path d="M138.2 411.6h2.6v2.6h-2.6z"/>
<path d="M139.3 412.4h2.6v2.6h-2.6z"/>
<path d="M140.4 413.2h2.6v2.6h-2.6z"/>
<path d="M141.5 413.9h2.6v2.6h-2.6z"/>
<path d="M142.6 414.7h2.6v2.6h-2.6z"/>
<path d="M143.7 415.4h2.6v2.6h-2.6z"/>
<path d="M144.8 416.1h2.6v2.6h-2.6z"/>
<path d="M145.9 416.9h2.6v2.6h-2.6z"/>
<path d="M146.9 417.6h2.6v2.6h-2.6z"/>
<path d="M148 418.3h2.6v2.6h-2.6z"/>
<path d="M149.1 419.1h2.6v2.6h-2.6z"/>
<path d="M150.2 419.8h2.6v2.6h-2.6z"/>
<path d="M151.3 420.5h2.6v2.6h-2.6z"/>
<path d="M152.4 421.2h2.6v2.6h-2.6z"/>
<path d="M153.5 422h2.6v2.6h-2.6z"/>
<path d="M154.6 422.7h2.6v2.6h-2.6z"/>
<path d="M155.7 423.4h2.6v2.6h-2.6z"/>
<path d="M156.7 424.1h2.6v2.6h-2.6z"/>
<path d="M157.8 424.8h2.6v2.6h-2.6z"/>
<path d="M158.9 425.5h2.6v2.6h-2.6z"/>
<path d="M160 426.2h2.6v2.6h-2.6z"/>
<path d="M161.1 426.9h2.6v2.6h-2.6z"/>
<path d="M162.2 427.6h2.6v2.6h-2.6z"/>
<path d="M163.3 428.3h2.6v2.6h-2.6z"/>
<path d="M164.4 429h2.6v2.6h-2.6z"/>
<path d="M165.4 429.7h2.6v2.6h-2.6z"/>
<path d="M166.5 430.4h2.6v2.6h-2.6z"/>
<path d="M167.6 431.1h2.6v2.6h-2.6z"/>
<path d="M168.7 431.8h2.6v2.6h-2.6z"/>
<path d="M169.8 432.5h2.6v2.6h-2.6z"/>
<path d="M170.9 433.2h2.6v2.6h-2.6z"/>
<path d="M172 433.9h2.6v2.6h-2.6z"/>
<path d="M173.1 434.5h2.6v2.6h-2.6z"/>
<path d="M174.1 435.2h2.6v2.6h-2.6z"/>
<path d="M175.2 435.9h2.6v2.6h-2.6z"/>
<path d="M176.3 436.5h2.6v2.6h-2.6z"/>
<path d="M177.4 437.1h2.6v2.6h-2.6z"/>
<path d="M178.5 437.7h2.6v2.6h-2.6z"/>
<path d="M179.6 438.3h2.6v2.6h-2.6z"/>
<path d="M180.7 438.9h2.6v2.6h-2.6z"/>
<path d="M181.8 439.5h2.6v2.6h-2.6z"/>
<path d="M182.9 440h2.6v2.6h-2.6z"/>
<path d="M183.9 440.6h2.6v2.6h-2.6z"/>
<path d="M185 441.1h2.6v2.6h-2.6z"/>
<path d="M186.1 441.6h2.6v2.6h-2.6z"/>
<path d="M187.2 442.1h2.6v2.6h-2.6z"/>
<path d="M188.3 442.7h2.6v2.6h-2.6z"/>
<path d="M189.4 443.2h2.6v2.6h-2.6z"/>
<path d="M190.5 443.7h2.6v2.6h-2.6z"/>
<path d="M191.6 444.2h2.6v2.6h-2.6z"/>
<path d="M192.6 444.7h2.6v2.6h-2.6z"/>
<path d="M193.7 445.2h2.6v2.6h-2.6z"/>
<path d="M194.8 445.7h2.6v2.6h-2.6z"/>
<path d="M195.9 446.2h2.6v2.6h-2.6z"/>
<path d="M197 446.7h2.6v2.6h-2.6z"/>
<path d="M198.1 447.2h2.6v2.6h-2.6z"/>
<path d="M199.2 447.7h2.6v2.6h-2.6z"/>
<path d="M200.3 448.2h2.6v2.6h-2.6z"/>
<path d="M201.3 448.7h2.6v2.6h-2.6z"/>
<path d="M202.4 449.2h2.6v2.6h-2.6z"/>
<path d="M203.5 449.7h2.6v2.6h-2.6z"/>
<path d="M204.6 450.2h2.6v2.6h-2.6z"/>
<path d="M205.7 450.7h2.6v2.6h-2.6z"/>
<path d="M206.8 451.2h2.6v2.6h-2.6z"/>
<path d="M207.9 451.7h2.6v2.6h-2.6z"/>
<path d="M209 452.1h2.6v2.6h-2.6z"/>
<path d="M210.1 452.6h2.6v2.6h-2.6z"/>
<path d="M211.1 453.1h2.6v2.6h-2.6z"/>
<path d="M212.2 453.6h2.6v2.6h-2.6z"/>
<path d="M213.3 454.1h2.6v2.6h-2.6z"/>
<path d="M214.4 454.6h2.6v2.6h-2.6z"/>
<path d="M215.5 455.1h2.6v2.6h-2.6z"/>
<path d="M216.6 455.6h2.6v2.6h-2.6z"/>
<path d="M217.7 456.2h2.6v2.6h-2.6z"/>
<path d="M218.8 456.7h2.6v2.6h-2.6z"/>
<path d="M219.8 457.2h2.6v2.6h-2.6z"/>
<path d="M220.9 457.7h2.6v2.6h-2.6z"/>
<path d="M222 458.3h2.6v2.6h-2.6z"/>
<path d="M223.1 458.8h2.6v2.6h-2.6z"/>
<path d="M224.2 459.4h2.6v2.6h-2.6z"/>
<path d="M225.3 459.9h2.6v2.6h-2.6z"/>
<path d="M226.4 460.5h2.6v2.6h-2.6z"/>
<path d="M227.5 461.1h2.6v2.6h-2.6z"/>
<path d="M228.5 461.6h2.6v2.6h-2.6z"/>
<path d="M229.6 462.2h2.6v2.6h-2.6z"/>
<path d="M230.7 462.7h2.6v2.6h-2.6z"/>
<path d="M231.8 463.3h2.6v2.6h-2.6z"/>
<path d="M232.9 463.8h2.6v2.6h-2.6z"/>
<path d="M234 464.3h2.6v2.6h-2.6z"/>
<path d="M235.1 464.8h2.6v2.6h-2.6z"/>
<path d="M236.2 465.3h2.6v2.6h-2.6z"/>
<path d="M237.3 465.8h2.6v2.6h-2.6z"/>
<path d="M238.3 466.3h2.6v2.6h-2.6z"/>
<path d="M239.4 466.8h2.6v2.6h-2.6z"/>
<path d="M240.5 467.3h2.6v2.6h-2.6z"/>
<path d="M241.6 467.8h2.6v2.6h-2.6z"/>
<path d="M242.7 468.3h2.6v2.6h-2.6z"/>
<path d="M243.8 468.8h2.6v2.6h-2.6z"/>
<path d="M244.9 469.3h2.6v2.6h-2.6z"/>
<path d="M246 469.8h2.6v2.6h-2.6z"/>
<path d="M247 470.2h2.6v2.6h-2.6z"/>
<path d="M248.1 470.7h2.6v2.6h-2.6z"/>
<path d="M249.2 471.2h2.6v2.6h-2.6z"/>
<path d="M250.3 471.7h2.6v2.6h-2.6z"/>
<path d="M251.4 472.1h2.6v2.6h-2.6z"/>
<path d="M252.5 472.6h2.6v2.6h-2.6z"/>
<path d="M253.6 473h2.6v2.6h-2.6z"/>
<path d="M254.7 473.5h2.6v2.6h-2.6z"/>
<path d="M255.7 473.9h2.6v2.6h-2.6z"/>
<path d="M256.8 474.3h2.6v2.6h-2.6z"/>
<path d="M257.9 474.7h2.6v2.6h-2.6z"/>
<path d="M259 475.1h2.6v2.6h-2.6z"/>
<path d="M260.1 475.4h2.6v2.6h-2.6z"/>
<path d="M261.2 475.8h2.6v2.6h-2.6z"/>
<path d="M262.3 476.1h2.6v2.6h-2.6z"/>
<path d="M263.4 476.4h2.6v2.6h-2.6z"/>
<path d="M264.5 476.7h2.6v2.6h-2.6z"/>
<path d="M265.5 476.9h2.6v2.6h-2.6z"/>
<path d="M266.6 477.2h2.6v2.6h-2.6z"/>
<path d="M267.7 477.5h2.6v2.6h-2.6z"/>
<path d="M268.8 477.7h2.6v2.6h-2.6z"/>
<path d="M269.9 478h2.6v2.6h-2.6z"/>
<path d="M271 478.2h2.6v2.6h-2.6z"/>
<path d="M272.1 478.5h2.6v2.6h-2.6z"/>
<path d="M273.2 478.7h2.6v2.6h-2.6z"/>
<path d="M274.2 479h2.6v2.6h-2.6z"/>
<path d="M275.3 479.2h2.6v2.6h-2.6z"/>
<path d="M276.4 479.4h2.6v2.6h-2.6z"/>
<path d="M277.5 479.6h2.6v2.6h-2.6z"/>
<path d="M278.6 479.8h2.6v2.6h-2.6z"/>
<path d="M279.7 480.1h2.6v2.6h-2.6z"/>
<path d="M280.8 480.3h2.6v2.6h-2.6z"/>
<path d="M281.9 480.5h2.6v2.6h-2.6z"/>
<path d="M282.9 480.6h2.6v2.6h-2.6z"/>
<path d="M284 480.8h2.6v2.6h-2.6z"/>
<path d="M285.1 481h2.6v2.6h-2.6z"/>
<path d="M286.2 481.2h2.6v2.6h-2.6z"/>
<path d="M287.3 481.4h2.6v2.6h-2.6z"/>
<path d="M288.4 481.5h2.6v2.6h-2.6z"/>
<path d="M289.5 481.7h2.6v2.6h-2.6z"/>
<path d="M290.6 481.8h2.6v2.6h-2.6z"/>
<path d="M291.7 482h2.6v2.6h-2.6z"/>
<path d="M292.7 482.1h2.6v2.6h-2.6z"/>
<path d="M293.8 482.2h2.6v2.6h-2.6z"/>
<path d="M294.9 482.3h2.6v2.6h-2.6z"/>
<path d="M296 482.5h2.6v2.6h-2.6z"/>
<path d="M297.1 482.6h2.6v2.6h-2.6z"/>
<path d="M298.2 482.7h2.6v2.6h-2.6z"/>
<path d="M299.3 482.8h2.6v2.6h-2.6z"/>
<path d="M300.4 482.9h2.6v2.6h-2.6z"/>
<path d="M301.4 483h2.6v2.6h-2.6z"/>
<path d="M302.5 483.1h2.6v2.6h-2.6z"/>
<path d="M303.6 483.2h2.6v2.6h-2.6z"/>
<path d="M304.7 483.3h2.6v2.6h-2.6z"/>
<path d="M305.8 483.4h2.6v2.6h-2.6z"/>
<path d="M306.9 483.5h2.6v2.6h-2.6z"/>
<path d="M308 483.5h2.6v2.6h-2.6z"/>
<path d="M309.1 483.6h2.6v2.6h-2.6z"/>
<path d="M310.1 483.7h2.6v2.6h-2.6z"/>
<path d="M311.2 483.8h2.6v2.6h-2.6z"/>
<path d="M312.3 483.9h2.6v2.6h-2.6z"/>
<path d="M313.4 484h2.6v2.6h-2.6z"/>
<path d="M314.5 484.1h2.6v2.6h-2.6z"/>
<path d="M315.6 484.2h2.6v2.6h-2.6z"/>
<path d="M316.7 484.2h2.6v2.6h-2.6z"/>
<path d="M317.8 484.3h2.6v2.6h-2.6z"/>
<path d="M318.9 484.4h2.6v2.6h-2.6z"/>
<path d="M319.9 484.5h2.6v2.6h-2.6z"/>
<path d="M321 484.5h2.6v2.6h-2.6z"/>
<path d="M322.1 484.6h2.6v2.6h-2.6z"/>
<path d="M323.2 484.7h2.6v2.6h-2.6z"/>
<path d="M324.3 484.8h2.6v2.6h-2.6z"/>
<path d="M325.4 484.8h2.6v2.6h-2.6z"/>
<path d="M326.5 484.9h2.6v2.6h-2.6z"/>
<path d="M327.6 485h2.6v2.6h-2.6z"/>
<path d="M328.6 485h2.6v2.6h-2.6z"/>
<path d="M329.7 485.1h2.6v2.6h-2.6z"/>
<path d="M330.8 485.1h2.6v2.6h-2.6z"/>
<path d="M331.9 485.2h2.6v2.6h-2.6z"/>
<path d="M333 485.3h2.6v2.6h-2.6z"/>
<path d="M334.1 485.3h2.6v2.6h-2.6z"/>
<path d="M335.2 485.4h2.6v2.6h-2.6z"/>
<path d="M336.3 485.4h2.6v2.6h-2.6z"/>
<path d="M337.3 485.5h2.6v2.6h-2.6z"/>
<path d="M338.4 485.5h2.6v2.6h-2.6z"/>
<path d="M339.5 485.5h2.6v2.6h-2.6z"/>
<path d="M340.6 485.6h2.6v2.6h-2.6z"/>
<path d="M341.7 485.6h2.6v2.6h-2.6z"/>
<path d="M342.8 485.7h2.6v2.6h-2.6z"/>
<path d="M343.9 485.7h2.6v2.6h-2.6z"/>
<path d="M345 485.7h2.6v2.6h-2.6z"/>
<path d="M346.1 485.8h2.6v2.6h-2.6z"/>
<path d="M347.1 485.8h2.6v2.6h-2.6z"/>
<path d="M348.2 485.8h2.6v2.6h-2.6z"/>
<path d="M349.3 485.9h2.6v2.6h-2.6z"/>
<path d="M350.4 485.9h2.6v2.6h-2.6z"/>
<path d="M351.5 485.9h2.6v2.6h-2.6z"/>
<path d="M352.6 485.9h2.6v2.6h-2.6z"/>
<path d="M353.7 486h2.6v2.6h-2.6z"/>
<path d="M354.8 486h2.6v2.6h-2.6z"/>
<path d="M355.8 486h2.6v2.6h-2.6z"/>
<path d="M356.9 486h2.6v2.6h-2.6z"/>
<path d="M358 486h2.6v2.6h-2.6z"/>
<path d="M359.1 486.1h2.6v2.6h-2.6z"/>
<path d="M360.2 486.1h2.6v2.6h-2.6z"/>
<path d="M361.3 486.1h2.6v2.6h-2.6z"/>
<path d="M362.4 486.1h2.6v2.6h-2.6z"/>
<path d="M363.5 486.1h2.6v2.6h-2.6z"/>
<path d="M364.5 486.2h2.6v2.6h-2.6z"/>
<path d="M365.6 486.2h2.6v2.6h-2.6z"/>
<path d="M366.7 486.2h2.6v2.6h-2.6z"/>
<path d="M367.8 486.2h2.6v2.6h-2.6z"/>
<path d="M368.9 486.2h2.6v2.6h-2.6z"/>
<path d="M370 486.2h2.6v2.6h-2.6z"/>
<path d="M371.1 486.3h2.6v2.6h-2.6z"/>
<path d="M372.2 486.3h2.6v2.6h-2.6z"/>
<path d="M373.3 486.3h2.6v2.6h-2.6z"/>
<path d="M374.3 486.3h2.6v2.6h-2.6z"/>
<path d="M375.4 486.3h2.6v2.6h-2.6z"/>
<path d="M376.5 486.3h2.6v2.6h-2.6z"/>
<path d="M377.6 486.4h2.6v2.6h-2.6z"/>
<path d="M378.7 486.4h2.6v2.6h-2.6z"/>
<path d="M379.8 486.4h2.6v2.6h-2.6z"/>
<path d="M380.9 486.4h2.6v2.6h-2.6z"/>
<path d="M382 486.4h2.6v2.6h-2.6z"/>
<path d="M383 486.4h2.6v2.6h-2.6z"/>
<path d="M384.1 486.5h2.6v2.6h-2.6z"/>
<path d="M385.2 486.5h2.6v2.6h-2.6z"/>
<path d="M386.3 486.5h2.6v2.6h-2.6z"/>
<path d="M387.4 486.5h2.6v2.6h-2.6z"/>
<path d="M388.5 486.5h2.6v2.6h-2.6z"/>
<path d="M389.6 486.5h2.6v2.6h-2.6z"/>
<path d="M390.7 486.5h2.6v2.6h-2.6z"/>
<path d="M391.7 486.5h2.6v2.6h-2.6z"/>
<path d="M392.8 486.6h2.6v2.6h-2.6z"/>
<path d="M393.9 486.6h2.6v2.6h-2.6z"/>
<path d="M395 486.6h2.6v2.6h-2.6z"/>
<path d="M396.1 486.6h2.6v2.6h-2.6z"/>
<path d="M397.2 486.6h2.6v2.6h-2.6z"/>
<path d="M398.3 486.6h2.6v2.6h-2.6z"/>
<path d="M399.4 486.6h2.6v2.6h-2.6z"/>
<path d="M400.5 486.6h2.6v2.6h-2.6z"/>
<path d="M401.5 486.6h2.6v2.6h-2.6z"/>
<path d="M402.6 486.6h2.6v2.6h-2.6z"/>
<path d="M403.7 486.6h2.6v2.6h-2.6z"/>
<path d="M404.8 486.6h2.6v2.6h-2.6z"/>
<path d="M405.9 486.7h2.6v2.6h-2.6z"/>
<path d="M407 486.7h2.6v2.6h-2.6z"/>
<path d="M408.1 486.7h2.6v2.6h-2.6z"/>
<path d="M409.2 486.7h2.6v2.6h-2.6z"/>
<path d="M410.2 486.7h2.6v2.6h-2.6z"/>
<path d="M411.3 486.7h2.6v2.6h-2.6z"/>
<path d="M412.4 486.7h2.6v2.6h-2.6z"/>
<path d="M413.5 486.7h2.6v2.6h-2.6z"/>
<path d="M414.6 486.7h2.6v2.6h-2.6z"/>
<path d="M415.7 486.7h2.6v2.6h-2.6z"/>
<path d="M416.8 486.7h2.6v2.6h-2.6z"/>
<path d="M417.9 486.7h2.6v2.6h-2.6z"/></g>
<g fill="#008000" fill-opacity="0.75" stroke="#008000" stroke-width="1.2" stroke-linejoin="miter"><path d="M85.6 251.3L86.4 253.3L88.6 253.4L86.8 254.8L87.4 256.9L85.6 255.7L83.8 256.9L84.4 254.8L82.7 253.4L84.8 253.3zM85.8 264.7L86.6 266.8L88.8 266.9L87.1 268.3L87.7 270.4L85.8 269.1L84 270.4L84.6 268.3L82.9 266.9L85.1 266.8zM86.5 280.5L87.2 282.5L89.4 282.6L87.7 284L88.3 286.1L86.5 284.9L84.7 286.1L85.2 284L83.5 282.6L85.7 282.5zM88.2 292.8L89 294.8L91.2 294.9L89.5 296.3L90 298.4L88.2 297.2L86.4 298.4L87 296.3L85.3 294.9L87.5 294.8zM90 307.9L90.7 310L92.9 310.1L91.2 311.4L91.8 313.6L90 312.3L88.1 313.6L88.7 311.4L87 310.1L89.2 310zM91.3 320.8L92 322.9L94.2 323L92.5 324.4L93.1 326.5L91.3 325.2L89.4 326.5L90 324.4L88.3 323L90.5 322.9zM92 327.9L92.8 330L95 330.1L93.3 331.4L93.9 333.5L92 332.3L90.2 333.5L90.8 331.4L89.1 330.1L91.3 330zM93.8 341.6L94.5 343.7L96.7 343.7L95 345.1L95.6 347.2L93.8 346L92 347.2L92.5 345.1L90.8 343.7L93 343.7zM96.3 355.6L97 357.7L99.2 357.8L97.5 359.1L98.1 361.2L96.3 360L94.5 361.2L95 359.1L93.3 357.8L95.5 357.7zM98.8 364.2L99.5 366.2L101.7 366.3L100 367.7L100.6 369.8L98.8 368.6L97 369.8L97.5 367.7L95.8 366.3L98 366.2zM101.2 371.7L101.9 373.7L104.1 373.8L102.4 375.2L103 377.3L101.2 376.1L99.3 377.3L99.9 375.2L98.2 373.8L100.4 373.7zM103.1 378.6L103.9 380.6L106.1 380.7L104.4 382.1L105 384.2L103.1 383L101.3 384.2L101.9 382.1L100.2 380.7L102.4 380.6zM104.9 384.8L105.6 386.8L107.8 386.9L106.1 388.3L106.7 390.4L104.9 389.2L103 390.4L103.6 388.3L101.9 386.9L104.1 386.8zM106.6 389.8L107.4 391.8L109.6 391.9L107.8 393.3L108.4 395.4L106.6 394.2L104.8 395.4L105.4 393.3L103.7 391.9L105.8 391.8zM108.4 393.7L109.1 395.8L111.3 395.9L109.6 397.2L110.2 399.3L108.4 398.1L106.5 399.3L107.1 397.2L105.4 395.9L107.6 395.8zM110.1 397.2L110.9 399.2L113 399.3L111.3 400.7L111.9 402.8L110.1 401.6L108.3 402.8L108.9 400.7L107.1 399.3L109.3 399.2zM111.8 400.4L112.6 402.4L114.8 402.5L113.1 403.9L113.7 406L111.8 404.8L110 406L110.6 403.9L108.9 402.5L111.1 402.4zM113.6 403.5L114.3 405.5L116.5 405.6L114.8 407L115.4 409.1L113.6 407.9L111.8 409.1L112.3 407L110.6 405.6L112.8 405.5zM115.3 406.6L116.1 408.7L118.3 408.8L116.6 410.1L117.1 412.2L115.3 411L113.5 412.2L114.1 410.1L112.4 408.8L114.6 408.7zM117.1 409.7L117.8 411.7L120 411.8L118.3 413.2L118.9 415.3L117.1 414.1L115.2 415.3L115.8 413.2L114.1 411.8L116.3 411.7zM118.8 412.6L119.6 414.7L121.7 414.8L120 416.1L120.6 418.2L118.8 417L117 418.2L117.6 416.1L115.8 414.8L118 414.7zM120.5 415.5L121.3 417.5L123.5 417.6L121.8 419L122.4 421.1L120.5 419.9L118.7 421.1L119.3 419L117.6 417.6L119.8 417.5zM122.3 418.1L123 420.2L125.2 420.3L123.5 421.6L124.1 423.7L122.3 422.5L120.5 423.7L121 421.6L119.3 420.3L121.5 420.2zM124 420.6L124.8 422.7L127 422.8L125.3 424.1L125.8 426.3L124 425L122.2 426.3L122.8 424.1L121.1 422.8L123.3 422.7zM125.8 422.9L126.5 424.9L128.7 425L127 426.4L127.6 428.5L125.8 427.3L123.9 428.5L124.5 426.4L122.8 425L125 424.9zM127.5 424.8L128.3 426.9L130.4 427L128.7 428.3L129.3 430.5L127.5 429.2L125.7 430.5L126.3 428.3L124.6 427L126.7 426.9zM129.2 426.7L130 428.7L132.2 428.8L130.5 430.2L131.1 432.3L129.2 431.1L127.4 432.3L128 430.2L126.3 428.8L128.5 428.7zM131 428.4L131.7 430.4L133.9 430.5L132.2 431.9L132.8 434L131 432.8L129.2 434L129.7 431.9L128 430.5L130.2 430.4zM132.7 430.1L133.5 432.1L135.7 432.2L134 433.6L134.5 435.7L132.7 434.5L130.9 435.7L131.5 433.6L129.8 432.2L132 432.1zM134.5 431.7L135.2 433.8L137.4 433.9L135.7 435.2L136.3 437.3L134.5 436.1L132.6 437.3L133.2 435.2L131.5 433.9L133.7 433.8zM136.2 433.4L137 435.4L139.2 435.5L137.4 436.9L138 439L136.2 437.8L134.4 439L135 436.9L133.3 435.5L135.4 435.4zM137.9 435L138.7 437L140.9 437.1L139.2 438.5L139.8 440.6L137.9 439.4L136.1 440.6L136.7 438.5L135 437.1L137.2 437zM139.7 436.7L140.5 438.7L142.6 438.8L140.9 440.2L141.5 442.3L139.7 441.1L137.9 442.3L138.5 440.2L136.7 438.8L138.9 438.7zM141.4 438.4L142.2 440.4L144.4 440.5L142.7 441.9L143.3 444L141.4 442.8L139.6 444L140.2 441.9L138.5 440.5L140.7 440.4zM143.2 440.1L143.9 442.2L146.1 442.3L144.4 443.6L145 445.7L143.2 444.5L141.3 445.7L141.9 443.6L140.2 442.3L142.4 442.2zM144.9 441.8L145.7 443.9L147.9 444L146.1 445.3L146.7 447.4L144.9 446.2L143.1 447.4L143.7 445.3L142 444L144.1 443.9zM146.7 443.5L147.4 445.5L149.6 445.6L147.9 447L148.5 449.1L146.7 447.9L144.8 449.1L145.4 447L143.7 445.6L145.9 445.5zM148.4 445L149.2 447.1L151.3 447.2L149.6 448.5L150.2 450.7L148.4 449.4L146.6 450.7L147.2 448.5L145.4 447.2L147.6 447.1zM150.1 446.5L150.9 448.6L153.1 448.7L151.4 450L152 452.1L150.1 450.9L148.3 452.1L148.9 450L147.2 448.7L149.4 448.6zM151.9 447.9L152.6 450L154.8 450.1L153.1 451.4L153.7 453.5L151.9 452.3L150.1 453.5L150.6 451.4L148.9 450.1L151.1 450zM153.6 449.3L154.4 451.3L156.6 451.4L154.8 452.8L155.4 454.9L153.6 453.7L151.8 454.9L152.4 452.8L150.7 451.4L152.8 451.3zM155.4 450.5L156.1 452.6L158.3 452.7L156.6 454L157.2 456.1L155.4 454.9L153.5 456.1L154.1 454L152.4 452.7L154.6 452.6zM157.1 451.8L157.9 453.8L160 453.9L158.3 455.3L158.9 457.4L157.1 456.2L155.3 457.4L155.9 455.3L154.1 453.9L156.3 453.8zM158.8 452.9L159.6 455L161.8 455.1L160.1 456.4L160.7 458.5L158.8 457.3L157 458.5L157.6 456.4L155.9 455.1L158.1 455zM160.6 454L161.3 456.1L163.5 456.2L161.8 457.5L162.4 459.6L160.6 458.4L158.8 459.6L159.3 457.5L157.6 456.2L159.8 456.1zM162.3 455.1L163.1 457.2L165.3 457.3L163.6 458.6L164.1 460.7L162.3 459.5L160.5 460.7L161.1 458.6L159.4 457.3L161.6 457.2zM164.1 456.2L164.8 458.2L167 458.3L165.3 459.7L165.9 461.8L164.1 460.6L162.2 461.8L162.8 459.7L161.1 458.3L163.3 458.2zM165.8 457.2L166.6 459.2L168.7 459.3L167 460.7L167.6 462.8L165.8 461.6L164 462.8L164.6 460.7L162.9 459.3L165 459.2zM167.5 458L168.3 460.1L170.5 460.2L168.8 461.5L169.4 463.6L167.5 462.4L165.7 463.6L166.3 461.5L164.6 460.2L166.8 460.1zM169.3 458.8L170 460.8L172.2 460.9L170.5 462.3L171.1 464.4L169.3 463.2L167.5 464.4L168 462.3L166.3 460.9L168.5 460.8zM171 459.4L171.8 461.4L174 461.5L172.3 462.9L172.8 465L171 463.8L169.2 465L169.8 462.9L168.1 461.5L170.3 461.4zM172.8 460L173.5 462L175.7 462.1L174 463.5L174.6 465.6L172.8 464.4L170.9 465.6L171.5 463.5L169.8 462.1L172 462zM174.5 460.6L175.3 462.6L177.5 462.7L175.7 464.1L176.3 466.2L174.5 465L172.7 466.2L173.3 464.1L171.6 462.7L173.7 462.6zM176.2 461.1L177 463.2L179.2 463.2L177.5 464.6L178.1 466.7L176.2 465.5L174.4 466.7L175 464.6L173.3 463.2L175.5 463.2zM178 461.6L178.7 463.7L180.9 463.8L179.2 465.1L179.8 467.2L178 466L176.2 467.2L176.7 465.1L175 463.8L177.2 463.7zM179.7 462.1L180.5 464.1L182.7 464.2L181 465.6L181.5 467.7L179.7 466.5L177.9 467.7L178.5 465.6L176.8 464.2L179 464.1zM181.5 462.6L182.2 464.6L184.4 464.7L182.7 466.1L183.3 468.2L181.5 467L179.6 468.2L180.2 466.1L178.5 464.7L180.7 464.6zM183.2 463L184 465L186.2 465.1L184.4 466.5L185 468.6L183.2 467.4L181.4 468.6L182 466.5L180.3 465.1L182.4 465zM184.9 463.4L185.7 465.5L187.9 465.5L186.2 466.9L186.8 469L184.9 467.8L183.1 469L183.7 466.9L182 465.5L184.2 465.5zM186.7 463.8L187.5 465.9L189.6 465.9L187.9 467.3L188.5 469.4L186.7 468.2L184.9 469.4L185.5 467.3L183.7 465.9L185.9 465.9zM188.4 464.2L189.2 466.2L191.4 466.3L189.7 467.7L190.3 469.8L188.4 468.6L186.6 469.8L187.2 467.7L185.5 466.3L187.7 466.2zM190.2 464.6L190.9 466.6L193.1 466.7L191.4 468.1L192 470.2L190.2 469L188.3 470.2L188.9 468.1L187.2 466.7L189.4 466.6zM191.9 464.9L192.7 467L194.9 467.1L193.1 468.4L193.7 470.5L191.9 469.3L190.1 470.5L190.7 468.4L189 467.1L191.1 467zM193.7 465.3L194.4 467.3L196.6 467.4L194.9 468.8L195.5 470.9L193.7 469.7L191.8 470.9L192.4 468.8L190.7 467.4L192.9 467.3zM195.4 465.7L196.2 467.7L198.3 467.8L196.6 469.2L197.2 471.3L195.4 470.1L193.6 471.3L194.2 469.2L192.4 467.8L194.6 467.7zM197.1 466L197.9 468L200.1 468.1L198.4 469.5L199 471.6L197.1 470.4L195.3 471.6L195.9 469.5L194.2 468.1L196.4 468zM198.9 466.3L199.6 468.4L201.8 468.5L200.1 469.8L200.7 471.9L198.9 470.7L197.1 471.9L197.6 469.8L195.9 468.5L198.1 468.4zM200.6 466.7L201.4 468.7L203.6 468.8L201.9 470.2L202.4 472.3L200.6 471.1L198.8 472.3L199.4 470.2L197.7 468.8L199.9 468.7zM202.4 467L203.1 469L205.3 469.1L203.6 470.5L204.2 472.6L202.4 471.4L200.5 472.6L201.1 470.5L199.4 469.1L201.6 469zM204.1 467.3L204.9 469.3L207 469.4L205.3 470.8L205.9 472.9L204.1 471.7L202.3 472.9L202.9 470.8L201.1 469.4L203.3 469.3zM205.8 467.6L206.6 469.6L208.8 469.7L207.1 471.1L207.7 473.2L205.8 472L204 473.2L204.6 471.1L202.9 469.7L205.1 469.6zM207.6 467.9L208.3 469.9L210.5 470L208.8 471.4L209.4 473.5L207.6 472.3L205.8 473.5L206.3 471.4L204.6 470L206.8 469.9zM209.3 468.1L210.1 470.2L212.3 470.3L210.6 471.6L211.1 473.7L209.3 472.5L207.5 473.7L208.1 471.6L206.4 470.3L208.6 470.2zM211.1 468.4L211.8 470.5L214 470.6L212.3 471.9L212.9 474L211.1 472.8L209.2 474L209.8 471.9L208.1 470.6L210.3 470.5zM212.8 468.7L213.6 470.7L215.7 470.8L214 472.2L214.6 474.3L212.8 473.1L211 474.3L211.6 472.2L209.9 470.8L212 470.7zM214.5 468.9L215.3 471L217.5 471.1L215.8 472.4L216.4 474.5L214.5 473.3L212.7 474.5L213.3 472.4L211.6 471.1L213.8 471zM216.3 469.2L217 471.2L219.2 471.3L217.5 472.7L218.1 474.8L216.3 473.6L214.5 474.8L215 472.7L213.3 471.3L215.5 471.2zM218 469.4L218.8 471.4L221 471.5L219.3 472.9L219.8 475L218 473.8L216.2 475L216.8 472.9L215.1 471.5L217.3 471.4zM219.8 469.6L220.5 471.7L222.7 471.8L221 473.1L221.6 475.2L219.8 474L217.9 475.2L218.5 473.1L216.8 471.8L219 471.7zM221.5 469.8L222.3 471.9L224.5 472L222.7 473.3L223.3 475.4L221.5 474.2L219.7 475.4L220.3 473.3L218.6 472L220.7 471.9zM223.2 470L224 472.1L226.2 472.2L224.5 473.5L225.1 475.7L223.2 474.4L221.4 475.7L222 473.5L220.3 472.2L222.5 472.1zM225 470.3L225.8 472.3L227.9 472.4L226.2 473.8L226.8 475.9L225 474.7L223.2 475.9L223.8 473.8L222 472.4L224.2 472.3zM226.7 470.5L227.5 472.5L229.7 472.6L228 474L228.5 476.1L226.7 474.9L224.9 476.1L225.5 474L223.8 472.6L226 472.5zM228.5 470.7L229.2 472.7L231.4 472.8L229.7 474.2L230.3 476.3L228.5 475.1L226.6 476.3L227.2 474.2L225.5 472.8L227.7 472.7zM230.2 470.8L231 472.9L233.2 473L231.4 474.3L232 476.5L230.2 475.2L228.4 476.5L229 474.3L227.3 473L229.4 472.9zM231.9 471L232.7 473.1L234.9 473.2L233.2 474.5L233.8 476.6L231.9 475.4L230.1 476.6L230.7 474.5L229 473.2L231.2 473.1zM233.7 471.2L234.5 473.3L236.6 473.3L234.9 474.7L235.5 476.8L233.7 475.6L231.9 476.8L232.5 474.7L230.7 473.3L232.9 473.3zM235.4 471.4L236.2 473.4L238.4 473.5L236.7 474.9L237.3 477L235.4 475.8L233.6 477L234.2 474.9L232.5 473.5L234.7 473.4zM237.2 471.5L237.9 473.6L240.1 473.7L238.4 475L239 477.1L237.2 475.9L235.3 477.1L235.9 475L234.2 473.7L236.4 473.6zM238.9 471.7L239.7 473.7L241.9 473.8L240.1 475.2L240.7 477.3L238.9 476.1L237.1 477.3L237.7 475.2L236 473.8L238.1 473.7zM240.7 471.8L241.4 473.9L243.6 474L241.9 475.3L242.5 477.4L240.7 476.2L238.8 477.4L239.4 475.3L237.7 474L239.9 473.9zM242.4 472L243.2 474L245.3 474.1L243.6 475.5L244.2 477.6L242.4 476.4L240.6 477.6L241.2 475.5L239.4 474.1L241.6 474zM244.1 472.1L244.9 474.2L247.1 474.2L245.4 475.6L246 477.7L244.1 476.5L242.3 477.7L242.9 475.6L241.2 474.2L243.4 474.2zM245.9 472.2L246.6 474.3L248.8 474.4L247.1 475.7L247.7 477.8L245.9 476.6L244.1 477.8L244.6 475.7L242.9 474.4L245.1 474.3zM247.6 472.3L248.4 474.4L250.6 474.5L248.9 475.8L249.4 477.9L247.6 476.7L245.8 477.9L246.4 475.8L244.7 474.5L246.9 474.4zM249.4 472.4L250.1 474.5L252.3 474.6L250.6 475.9L251.2 478L249.4 476.8L247.5 478L248.1 475.9L246.4 474.6L248.6 474.5zM251.1 472.5L251.9 474.6L254 474.7L252.3 476L252.9 478.1L251.1 476.9L249.3 478.1L249.9 476L248.2 474.7L250.3 474.6zM252.8 472.6L253.6 474.7L255.8 474.8L254.1 476.1L254.7 478.2L252.8 477L251 478.2L251.6 476.1L249.9 474.8L252.1 474.7zM254.6 472.7L255.3 474.8L257.5 474.9L255.8 476.2L256.4 478.3L254.6 477.1L252.8 478.3L253.3 476.2L251.6 474.9L253.8 474.8zM256.3 472.8L257.1 474.8L259.3 474.9L257.6 476.3L258.1 478.4L256.3 477.2L254.5 478.4L255.1 476.3L253.4 474.9L255.6 474.8zM258.1 472.9L258.8 474.9L261 475L259.3 476.4L259.9 478.5L258.1 477.3L256.2 478.5L256.8 476.4L255.1 475L257.3 474.9zM259.8 473L260.6 475L262.8 475.1L261 476.5L261.6 478.6L259.8 477.4L258 478.6L258.6 476.5L256.9 475.1L259 475zM261.5 473L262.3 475.1L264.5 475.2L262.8 476.5L263.4 478.7L261.5 477.4L259.7 478.7L260.3 476.5L258.6 475.2L260.8 475.1zM263.3 473.1L264 475.2L266.2 475.3L264.5 476.6L265.1 478.7L263.3 477.5L261.5 478.7L262 476.6L260.3 475.3L262.5 475.2zM265 473.2L265.8 475.3L268 475.4L266.3 476.7L266.8 478.8L265 477.6L263.2 478.8L263.8 476.7L262.1 475.4L264.3 475.3zM266.8 473.3L267.5 475.4L269.7 475.5L268 476.8L268.6 478.9L266.8 477.7L264.9 478.9L265.5 476.8L263.8 475.5L266 475.4zM268.5 473.4L269.3 475.5L271.5 475.6L269.7 476.9L270.3 479L268.5 477.8L266.7 479L267.3 476.9L265.6 475.6L267.7 475.5zM270.2 473.5L271 475.6L273.2 475.7L271.5 477L272.1 479.1L270.2 477.9L268.4 479.1L269 477L267.3 475.7L269.5 475.6zM272 473.6L272.8 475.7L274.9 475.8L273.2 477.1L273.8 479.2L272 478L270.2 479.2L270.8 477.1L269 475.8L271.2 475.7zM273.7 473.7L274.5 475.8L276.7 475.9L275 477.2L275.6 479.4L273.7 478.1L271.9 479.4L272.5 477.2L270.8 475.9L273 475.8zM275.5 473.9L276.2 475.9L278.4 476L276.7 477.4L277.3 479.5L275.5 478.3L273.6 479.5L274.2 477.4L272.5 476L274.7 475.9zM277.2 474L278 476L280.2 476.1L278.4 477.5L279 479.6L277.2 478.4L275.4 479.6L276 477.5L274.3 476.1L276.4 476zM279 474.1L279.7 476.2L281.9 476.3L280.2 477.6L280.8 479.7L279 478.5L277.1 479.7L277.7 477.6L276 476.3L278.2 476.2zM280.7 474.2L281.5 476.3L283.6 476.4L281.9 477.7L282.5 479.9L280.7 478.6L278.9 479.9L279.5 477.7L277.7 476.4L279.9 476.3zM282.4 474.4L283.2 476.4L285.4 476.5L283.7 477.9L284.3 480L282.4 478.8L280.6 480L281.2 477.9L279.5 476.5L281.7 476.4zM284.2 474.5L284.9 476.6L287.1 476.6L285.4 478L286 480.1L284.2 478.9L282.4 480.1L282.9 478L281.2 476.6L283.4 476.6zM285.9 474.6L286.7 476.7L288.9 476.8L287.2 478.1L287.7 480.2L285.9 479L284.1 480.2L284.7 478.1L283 476.8L285.2 476.7zM287.7 474.7L288.4 476.8L290.6 476.9L288.9 478.3L289.5 480.4L287.7 479.1L285.8 480.4L286.4 478.3L284.7 476.9L286.9 476.8zM289.4 474.9L290.2 476.9L292.3 477L290.6 478.4L291.2 480.5L289.4 479.3L287.6 480.5L288.2 478.4L286.4 477L288.6 476.9zM291.1 475L291.9 477L294.1 477.1L292.4 478.5L293 480.6L291.1 479.4L289.3 480.6L289.9 478.5L288.2 477.1L290.4 477zM292.9 475.1L293.6 477.1L295.8 477.2L294.1 478.6L294.7 480.7L292.9 479.5L291.1 480.7L291.6 478.6L289.9 477.2L292.1 477.1zM294.6 475.2L295.4 477.2L297.6 477.3L295.9 478.7L296.4 480.8L294.6 479.6L292.8 480.8L293.4 478.7L291.7 477.3L293.9 477.2zM296.4 475.3L297.1 477.3L299.3 477.4L297.6 478.8L298.2 480.9L296.4 479.7L294.5 480.9L295.1 478.8L293.4 477.4L295.6 477.3zM298.1 475.3L298.9 477.4L301 477.5L299.3 478.9L299.9 481L298.1 479.7L296.3 481L296.9 478.9L295.2 477.5L297.3 477.4zM299.8 475.4L300.6 477.5L302.8 477.6L301.1 478.9L301.7 481L299.8 479.8L298 481L298.6 478.9L296.9 477.6L299.1 477.5zM301.6 475.5L302.3 477.5L304.5 477.6L302.8 479L303.4 481.1L301.6 479.9L299.8 481.1L300.3 479L298.6 477.6L300.8 477.5zM303.3 475.6L304.1 477.6L306.3 477.7L304.6 479.1L305.1 481.2L303.3 480L301.5 481.2L302.1 479.1L300.4 477.7L302.6 477.6zM305.1 475.6L305.8 477.7L308 477.8L306.3 479.1L306.9 481.2L305.1 480L303.2 481.2L303.8 479.1L302.1 477.8L304.3 477.7zM306.8 475.7L307.6 477.7L309.8 477.8L308 479.2L308.6 481.3L306.8 480.1L305 481.3L305.6 479.2L303.9 477.8L306 477.7zM308.5 475.7L309.3 477.8L311.5 477.9L309.8 479.2L310.4 481.4L308.5 480.1L306.7 481.4L307.3 479.2L305.6 477.9L307.8 477.8zM310.3 475.8L311 477.9L313.2 477.9L311.5 479.3L312.1 481.4L310.3 480.2L308.5 481.4L309 479.3L307.3 477.9L309.5 477.9zM312 475.9L312.8 477.9L315 478L313.3 479.4L313.8 481.5L312 480.3L310.2 481.5L310.8 479.4L309.1 478L311.3 477.9zM313.8 475.9L314.5 478L316.7 478.1L315 479.4L315.6 481.5L313.8 480.3L311.9 481.5L312.5 479.4L310.8 478.1L313 478zM315.5 476L316.3 478L318.5 478.1L316.7 479.5L317.3 481.6L315.5 480.4L313.7 481.6L314.3 479.5L312.6 478.1L314.7 478zM317.2 476L318 478.1L320.2 478.2L318.5 479.5L319.1 481.6L317.2 480.4L315.4 481.6L316 479.5L314.3 478.2L316.5 478.1zM319 476.1L319.8 478.1L321.9 478.2L320.2 479.6L320.8 481.7L319 480.5L317.2 481.7L317.8 479.6L316 478.2L318.2 478.1zM320.7 476.1L321.5 478.2L323.7 478.3L322 479.6L322.6 481.7L320.7 480.5L318.9 481.7L319.5 479.6L317.8 478.3L320 478.2zM322.5 476.2L323.2 478.2L325.4 478.3L323.7 479.7L324.3 481.8L322.5 480.6L320.6 481.8L321.2 479.7L319.5 478.3L321.7 478.2zM324.2 476.2L325 478.3L327.2 478.4L325.4 479.7L326 481.8L324.2 480.6L322.4 481.8L323 479.7L321.3 478.4L323.4 478.3zM326 476.3L326.7 478.3L328.9 478.4L327.2 479.8L327.8 481.9L326 480.7L324.1 481.9L324.7 479.8L323 478.4L325.2 478.3zM327.7 476.3L328.5 478.4L330.6 478.5L328.9 479.8L329.5 481.9L327.7 480.7L325.9 481.9L326.5 479.8L324.7 478.5L326.9 478.4zM329.4 476.4L330.2 478.4L332.4 478.5L330.7 479.9L331.3 482L329.4 480.8L327.6 482L328.2 479.9L326.5 478.5L328.7 478.4zM331.2 476.4L331.9 478.5L334.1 478.6L332.4 479.9L333 482L331.2 480.8L329.4 482L329.9 479.9L328.2 478.6L330.4 478.5zM332.9 476.5L333.7 478.5L335.9 478.6L334.2 480L334.7 482.1L332.9 480.9L331.1 482.1L331.7 480L330 478.6L332.2 478.5zM334.7 476.5L335.4 478.5L337.6 478.6L335.9 480L336.5 482.1L334.7 480.9L332.8 482.1L333.4 480L331.7 478.6L333.9 478.5zM336.4 476.5L337.2 478.6L339.3 478.7L337.6 480L338.2 482.2L336.4 480.9L334.6 482.2L335.2 480L333.4 478.7L335.6 478.6zM338.1 476.6L338.9 478.6L341.1 478.7L339.4 480.1L340 482.2L338.1 481L336.3 482.2L336.9 480.1L335.2 478.7L337.4 478.6zM339.9 476.6L340.6 478.7L342.8 478.8L341.1 480.1L341.7 482.2L339.9 481L338.1 482.2L338.6 480.1L336.9 478.8L339.1 478.7zM341.6 476.7L342.4 478.7L344.6 478.8L342.9 480.2L343.4 482.3L341.6 481.1L339.8 482.3L340.4 480.2L338.7 478.8L340.9 478.7zM343.4 476.7L344.1 478.8L346.3 478.9L344.6 480.2L345.2 482.3L343.4 481.1L341.5 482.3L342.1 480.2L340.4 478.9L342.6 478.8zM345.1 476.7L345.9 478.8L348 478.9L346.3 480.3L346.9 482.4L345.1 481.1L343.3 482.4L343.9 480.3L342.2 478.9L344.3 478.8zM346.8 476.8L347.6 478.8L349.8 478.9L348.1 480.3L348.7 482.4L346.8 481.2L345 482.4L345.6 480.3L343.9 478.9L346.1 478.8zM348.6 476.8L349.3 478.9L351.5 479L349.8 480.3L350.4 482.4L348.6 481.2L346.8 482.4L347.3 480.3L345.6 479L347.8 478.9zM350.3 476.9L351.1 478.9L353.3 479L351.6 480.4L352.1 482.5L350.3 481.3L348.5 482.5L349.1 480.4L347.4 479L349.6 478.9zM352.1 476.9L352.8 479L355 479.1L353.3 480.4L353.9 482.5L352.1 481.3L350.2 482.5L350.8 480.4L349.1 479.1L351.3 479zM353.8 477L354.6 479L356.8 479.1L355 480.5L355.6 482.6L353.8 481.4L352 482.6L352.6 480.5L350.9 479.1L353 479zM355.5 477L356.3 479L358.5 479.1L356.8 480.5L357.4 482.6L355.5 481.4L353.7 482.6L354.3 480.5L352.6 479.1L354.8 479zM357.3 477L358.1 479.1L360.2 479.2L358.5 480.5L359.1 482.6L357.3 481.4L355.5 482.6L356.1 480.5L354.3 479.2L356.5 479.1zM359 477.1L359.8 479.1L362 479.2L360.3 480.6L360.9 482.7L359 481.5L357.2 482.7L357.8 480.6L356.1 479.2L358.3 479.1zM360.8 477.1L361.5 479.2L363.7 479.3L362 480.6L362.6 482.7L360.8 481.5L358.9 482.7L359.5 480.6L357.8 479.3L360 479.2zM362.5 477.1L363.3 479.2L365.5 479.3L363.7 480.6L364.3 482.8L362.5 481.5L360.7 482.8L361.3 480.6L359.6 479.3L361.7 479.2zM364.3 477.2L365 479.2L367.2 479.3L365.5 480.7L366.1 482.8L364.3 481.6L362.4 482.8L363 480.7L361.3 479.3L363.5 479.2zM366 477.2L366.8 479.3L368.9 479.4L367.2 480.7L367.8 482.8L366 481.6L364.2 482.8L364.8 480.7L363 479.4L365.2 479.3zM367.7 477.3L368.5 479.3L370.7 479.4L369 480.8L369.6 482.9L367.7 481.7L365.9 482.9L366.5 480.8L364.8 479.4L367 479.3zM369.5 477.3L370.2 479.3L372.4 479.4L370.7 480.8L371.3 482.9L369.5 481.7L367.7 482.9L368.2 480.8L366.5 479.4L368.7 479.3zM371.2 477.3L372 479.4L374.2 479.5L372.4 480.8L373 482.9L371.2 481.7L369.4 482.9L370 480.8L368.3 479.5L370.4 479.4zM373 477.4L373.7 479.4L375.9 479.5L374.2 480.9L374.8 483L373 481.8L371.1 483L371.7 480.9L370 479.5L372.2 479.4zM374.7 477.4L375.5 479.5L377.6 479.6L375.9 480.9L376.5 483L374.7 481.8L372.9 483L373.5 480.9L371.7 479.6L373.9 479.5zM376.4 477.4L377.2 479.5L379.4 479.6L377.7 480.9L378.3 483.1L376.4 481.8L374.6 483.1L375.2 480.9L373.5 479.6L375.7 479.5zM378.2 477.5L378.9 479.5L381.1 479.6L379.4 481L380 483.1L378.2 481.9L376.4 483.1L376.9 481L375.2 479.6L377.4 479.5zM379.9 477.5L380.7 479.6L382.9 479.7L381.2 481L381.7 483.1L379.9 481.9L378.1 483.1L378.7 481L377 479.7L379.2 479.6zM381.7 477.6L382.4 479.6L384.6 479.7L382.9 481.1L383.5 483.2L381.7 482L379.8 483.2L380.4 481.1L378.7 479.7L380.9 479.6zM383.4 477.6L384.2 479.6L386.3 479.7L384.6 481.1L385.2 483.2L383.4 482L381.6 483.2L382.2 481.1L380.5 479.7L382.6 479.6zM385.1 477.6L385.9 479.7L388.1 479.8L386.4 481.1L387 483.2L385.1 482L383.3 483.2L383.9 481.1L382.2 479.8L384.4 479.7zM386.9 477.7L387.6 479.7L389.8 479.8L388.1 481.2L388.7 483.3L386.9 482.1L385.1 483.3L385.6 481.2L383.9 479.8L386.1 479.7zM388.6 477.7L389.4 479.7L391.6 479.8L389.9 481.2L390.4 483.3L388.6 482.1L386.8 483.3L387.4 481.2L385.7 479.8L387.9 479.7zM390.4 477.7L391.1 479.8L393.3 479.9L391.6 481.2L392.2 483.3L390.4 482.1L388.5 483.3L389.1 481.2L387.4 479.9L389.6 479.8zM392.1 477.7L392.9 479.8L395.1 479.9L393.3 481.2L393.9 483.4L392.1 482.1L390.3 483.4L390.9 481.2L389.2 479.9L391.3 479.8zM393.8 477.8L394.6 479.8L396.8 479.9L395.1 481.3L395.7 483.4L393.8 482.2L392 483.4L392.6 481.3L390.9 479.9L393.1 479.8zM395.6 477.8L396.3 479.9L398.5 480L396.8 481.3L397.4 483.4L395.6 482.2L393.8 483.4L394.3 481.3L392.6 480L394.8 479.9zM397.3 477.8L398.1 479.9L400.3 480L398.6 481.3L399.1 483.4L397.3 482.2L395.5 483.4L396.1 481.3L394.4 480L396.6 479.9zM399.1 477.9L399.8 479.9L402 480L400.3 481.4L400.9 483.5L399.1 482.3L397.2 483.5L397.8 481.4L396.1 480L398.3 479.9zM400.8 477.9L401.6 479.9L403.8 480L402 481.4L402.6 483.5L400.8 482.3L399 483.5L399.6 481.4L397.9 480L400 479.9zM402.5 477.9L403.3 480L405.5 480.1L403.8 481.4L404.4 483.5L402.5 482.3L400.7 483.5L401.3 481.4L399.6 480.1L401.8 480zM404.3 478L405.1 480L407.2 480.1L405.5 481.5L406.1 483.6L404.3 482.4L402.5 483.6L403.1 481.5L401.3 480.1L403.5 480zM406 478L406.8 480L409 480.1L407.3 481.5L407.9 483.6L406 482.4L404.2 483.6L404.8 481.5L403.1 480.1L405.3 480zM407.8 478L408.5 480.1L410.7 480.1L409 481.5L409.6 483.6L407.8 482.4L405.9 483.6L406.5 481.5L404.8 480.1L407 480.1z"/></g>
<g fill="#0000ff" fill-opacity="1" stroke="none" stroke-width="0" stroke-linejoin="miter"><path d="M80.5 420.4l9 -4.3v8.6zM81.1 417.5l9 -4.3v8.6zM81.9 414.6l9 -4.3v8.6zM82.7 411.7l9 -4.3v8.6zM83.8 408.9l9 -4.3v8.6zM85.3 406.2l9 -4.3v8.6zM86.9 403.9l9 -4.3v8.6zM88.5 402l9 -4.3v8.6zM90.2 400.1l9 -4.3v8.6zM91.8 398.4l9 -4.3v8.6zM93.4 396.9l9 -4.3v8.6zM95 395.6l9 -4.3v8.6zM96.7 394.5l9 -4.3v8.6zM98.3 393.4l9 -4.3v8.6zM99.9 392.3l9 -4.3v8.6zM101.6 391.5l9 -4.3v8.6zM103.2 391l9 -4.3v8.6zM104.8 390.9l9 -4.3v8.6zM106.5 390.9l9 -4.3v8.6zM108.1 391l9 -4.3v8.6zM109.7 391l9 -4.3v8.6zM111.4 391.1l9 -4.3v8.6zM113 391.3l9 -4.3v8.6zM114.6 391.7l9 -4.3v8.6zM116.3 392.2l9 -4.3v8.6zM117.9 392.9l9 -4.3v8.6zM207.6 443.6l9 -4.3v8.6zM209.3 444.9l9 -4.3v8.6zM210.9 446.2l9 -4.3v8.6zM212.5 447.5l9 -4.3v8.6zM214.2 448.8l9 -4.3v8.6zM215.8 450l9 -4.3v8.6zM217.4 451.3l9 -4.3v8.6zM219.1 452.5l9 -4.3v8.6zM220.7 453.8l9 -4.3v8.6zM222.3 455l9 -4.3v8.6zM224 456.3l9 -4.3v8.6zM225.6 457.5l9 -4.3v8.6zM227.2 458.8l9 -4.3v8.6zM228.9 460.1l9 -4.3v8.6zM230.5 461.4l9 -4.3v8.6zM232.1 462.7l9 -4.3v8.6zM233.8 464l9 -4.3v8.6zM235.4 465.2l9 -4.3v8.6zM237 466.4l9 -4.3v8.6zM238.7 467.6l9 -4.3v8.6zM240.3 468.7l9 -4.3v8.6zM241.9 469.7l9 -4.3v8.6zM243.6 470.8l9 -4.3v8.6zM245.2 471.9l9 -4.3v8.6zM246.8 472.9l9 -4.3v8.6zM248.4 473.8l9 -4.3v8.6zM250.1 474.8l9 -4.3v8.6zM251.7 475.7l9 -4.3v8.6zM253.3 476.6l9 -4.3v8.6zM255 477.4l9 -4.3v8.6zM256.6 478.3l9 -4.3v8.6zM258.2 479.1l9 -4.3v8.6zM259.9 479.8l9 -4.3v8.6zM261.5 480.5l9 -4.3v8.6zM263.1 481.1l9 -4.3v8.6zM264.8 481.7l9 -4.3v8.6zM266.4 482.3l9 -4.3v8.6zM268 482.7l9 -4.3v8.6zM269.7 483.2l9 -4.3v8.6zM271.3 483.6l9 -4.3v8.6zM272.9 484l9 -4.3v8.6zM274.6 484.4l9 -4.3v8.6zM276.2 484.7l9 -4.3v8.6zM277.8 485.1l9 -4.3v8.6zM279.5 485.4l9 -4.3v8.6zM281.1 485.7l9 -4.3v8.6zM282.7 486l9 -4.3v8.6zM284.4 486.3l9 -4.3v8.6zM286 486.6l9 -4.3v8.6zM287.6 486.9l9 -4.3v8.6zM289.2 487.1l9 -4.3v8.6zM290.9 487.3l9 -4.3v8.6zM292.5 487.5l9 -4.3v8.6zM294.1 487.7l9 -4.3v8.6zM295.8 487.9l9 -4.3v8.6zM297.4 488.1l9 -4.3v8.6zM299 488.2l9 -4.3v8.6zM300.7 488.4l9 -4.3v8.6zM302.3 488.5l9 -4.3v8.6zM303.9 488.7l9 -4.3v8.6zM305.6 488.8l9 -4.3v8.6zM307.2 488.9l9 -4.3v8.6zM308.8 489.1l9 -4.3v8.6zM310.5 489.2l9 -4.3v8.6zM312.1 489.3l9 -4.3v8.6zM313.7 489.4l9 -4.3v8.6zM315.4 489.4l9 -4.3v8.6zM317 489.5l9 -4.3v8.6zM318.6 489.6l9 -4.3v8.6zM320.3 489.7l9 -4.3v8.6zM321.9 489.7l9 -4.3v8.6zM323.5 489.8l9 -4.3v8.6zM325.2 489.8l9 -4.3v8.6zM326.8 489.9l9 -4.3v8.6zM328.4 489.9l9 -4.3v8.6zM330 489.9l9 -4.3v8.6zM331.7 490l9 -4.3v8.6zM333.3 489.9l9 -4.3v8.6zM334.9 489.9l9 -4.3v8.6zM336.6 489.9l9 -4.3v8.6zM338.2 489.9l9 -4.3v8.6zM339.8 489.8l9 -4.3v8.6zM341.5 489.8l9 -4.3v8.6zM343.1 489.7l9 -4.3v8.6zM344.7 489.7l9 -4.3v8.6zM346.4 489.6l9 -4.3v8.6zM348 489.6l9 -4.3v8.6zM349.6 489.5l9 -4.3v8.6zM351.3 489.5l9 -4.3v8.6zM352.9 489.4l9 -4.3v8.6zM354.5 489.4l9 -4.3v8.6zM356.2 489.3l9 -4.3v8.6zM357.8 489.3l9 -4.3v8.6zM359.4 489.3l9 -4.3v8.6zM361.1 489.2l9 -4.3v8.6zM362.7 489.2l9 -4.3v8.6zM364.3 489.2l9 -4.3v8.6zM366 489.1l9 -4.3v8.6zM367.6 489.1l9 -4.3v8.6zM369.2 489.1l9 -4.3v8.6zM370.8 489l9 -4.3v8.6zM372.5 489l9 -4.3v8.6zM374.1 489l9 -4.3v8.6zM375.7 488.9l9 -4.3v8.6zM377.4 488.9l9 -4.3v8.6zM379 488.9l9 -4.3v8.6zM380.6 488.8l9 -4.3v8.6zM382.3 488.8l9 -4.3v8.6zM383.9 488.8l9 -4.3v8.6zM385.5 488.8l9 -4.3v8.6zM387.2 488.7l9 -4.3v8.6zM388.8 488.7l9 -4.3v8.6zM390.4 488.7l9 -4.3v8.6zM392.1 488.7l9 -4.3v8.6zM393.7 488.7l9 -4.3v8.6zM395.3 488.7l9 -4.3v8.6zM397 488.7l9 -4.3v8.6zM398.6 488.7l9 -4.3v8.6z"/></g>
<g fill="#fff" fill-opacity="1" stroke="#0000ff" stroke-width="0.95" stroke-linejoin="miter"><path d="M81.8 377.4l7.2 -3.5v7.1z"/>
<path d="M82.5 378.7l7.2 -3.5v7.1z"/>
<path d="M83.2 380l7.2 -3.5v7.1z"/>
<path d="M83.9 381.4l7.2 -3.5v7.1z"/>
<path d="M84.6 382.5l7.2 -3.5v7.1z"/></g>
<g fill="#fff" fill-opacity="1" stroke="#0000ff" stroke-width="1.3" stroke-linejoin="miter"><path d="M85.7 383.3l7 -3.5v6.9z"/>
<path d="M87 383.9l7 -3.5v6.9z"/>
<path d="M88.2 384.5l7 -3.5v6.9z"/>
<path d="M89.5 384.9l7 -3.5v6.9z"/>
<path d="M90.7 385.4l7 -3.5v6.9z"/>
<path d="M92 385.7l7 -3.5v6.9z"/>
<path d="M93.2 386.1l7 -3.5v6.9z"/>
<path d="M94.5 386.4l7 -3.5v6.9z"/>
<path d="M95.7 386.7l7 -3.5v6.9z"/>
<path d="M97 386.9l7 -3.5v6.9z"/>
<path d="M98.2 387.2l7 -3.5v6.9z"/>
<path d="M99.5 387.4l7 -3.5v6.9z"/>
<path d="M100.7 387.6l7 -3.5v6.9z"/>
<path d="M102 387.9l7 -3.5v6.9z"/>
<path d="M103.2 388.1l7 -3.5v6.9z"/>
<path d="M104.5 388.4l7 -3.5v6.9z"/>
<path d="M105.7 388.7l7 -3.5v6.9z"/>
<path d="M107 389l7 -3.5v6.9z"/>
<path d="M108.2 389.4l7 -3.5v6.9z"/>
<path d="M109.5 389.8l7 -3.5v6.9z"/>
<path d="M110.7 390.3l7 -3.5v6.9z"/>
<path d="M112 390.7l7 -3.5v6.9z"/>
<path d="M113.2 391.2l7 -3.5v6.9z"/>
<path d="M114.5 391.6l7 -3.5v6.9z"/>
<path d="M115.7 392.1l7 -3.5v6.9z"/>
<path d="M117 392.6l7 -3.5v6.9z"/>
<path d="M118.2 393l7 -3.5v6.9z"/>
<path d="M119.5 393.5l7 -3.5v6.9z"/>
<path d="M120.7 393.9l7 -3.5v6.9z"/>
<path d="M122 394.3l7 -3.5v6.9z"/>
<path d="M123.2 394.8l7 -3.5v6.9z"/>
<path d="M124.5 395.2l7 -3.5v6.9z"/>
<path d="M125.7 395.6l7 -3.5v6.9z"/>
<path d="M127 396.1l7 -3.5v6.9z"/>
<path d="M128.2 396.5l7 -3.5v6.9z"/>
<path d="M129.5 397l7 -3.5v6.9z"/>
<path d="M130.7 397.4l7 -3.5v6.9z"/>
<path d="M132 397.9l7 -3.5v6.9z"/>
<path d="M133.2 398.3l7 -3.5v6.9z"/>
<path d="M134.5 398.8l7 -3.5v6.9z"/>
<path d="M135.8 399.2l7 -3.5v6.9z"/>
<path d="M137 399.7l7 -3.5v6.9z"/>
<path d="M138.3 400.1l7 -3.5v6.9z"/>
<path d="M139.5 400.6l7 -3.5v6.9z"/>
<path d="M140.8 401.1l7 -3.5v6.9z"/>
<path d="M142 401.5l7 -3.5v6.9z"/>
<path d="M143.3 402l7 -3.5v6.9z"/>
<path d="M144.5 402.5l7 -3.5v6.9z"/>
<path d="M145.8 403l7 -3.5v6.9z"/>
<path d="M147 403.5l7 -3.5v6.9z"/>
<path d="M148.3 404.1l7 -3.5v6.9z"/>
<path d="M149.5 404.6l7 -3.5v6.9z"/>
<path d="M150.8 405.2l7 -3.5v6.9z"/>
<path d="M152 405.7l7 -3.5v6.9z"/>
<path d="M153.3 406.3l7 -3.5v6.9z"/>
<path d="M154.5 406.9l7 -3.5v6.9z"/>
<path d="M155.8 407.5l7 -3.5v6.9z"/>
<path d="M157 408.2l7 -3.5v6.9z"/>
<path d="M158.3 408.9l7 -3.5v6.9z"/>
<path d="M159.5 409.7l7 -3.5v6.9z"/>
<path d="M160.8 410.5l7 -3.5v6.9z"/>
<path d="M162 411.3l7 -3.5v6.9z"/>
<path d="M163.3 412.1l7 -3.5v6.9z"/>
<path d="M164.5 412.9l7 -3.5v6.9z"/>
<path d="M165.8 413.7l7 -3.5v6.9z"/>
<path d="M167 414.5l7 -3.5v6.9z"/>
<path d="M168.3 415.2l7 -3.5v6.9z"/>
<path d="M169.5 416l7 -3.5v6.9z"/>
<path d="M170.8 416.8l7 -3.5v6.9z"/>
<path d="M172 417.6l7 -3.5v6.9z"/>
<path d="M173.3 418.3l7 -3.5v6.9z"/>
<path d="M174.5 419.1l7 -3.5v6.9z"/>
<path d="M175.8 419.9l7 -3.5v6.9z"/>
<path d="M177 420.6l7 -3.5v6.9z"/>
<path d="M178.3 421.4l7 -3.5v6.9z"/>
<path d="M179.5 422.2l7 -3.5v6.9z"/>
<path d="M180.8 423l7 -3.5v6.9z"/>
<path d="M182 423.8l7 -3.5v6.9z"/>
<path d="M183.3 424.6l7 -3.5v6.9z"/>
<path d="M184.5 425.4l7 -3.5v6.9z"/>
<path d="M185.8 426.2l7 -3.5v6.9z"/>
<path d="M187.1 427.1l7 -3.5v6.9z"/>
<path d="M188.3 427.9l7 -3.5v6.9z"/>
<path d="M189.6 428.8l7 -3.5v6.9z"/>
<path d="M190.8 429.6l7 -3.5v6.9z"/>
<path d="M192.1 430.5l7 -3.5v6.9z"/>
<path d="M193.3 431.5l7 -3.5v6.9z"/>
<path d="M194.6 432.4l7 -3.5v6.9z"/>
<path d="M195.8 433.4l7 -3.5v6.9z"/>
<path d="M197.1 434.3l7 -3.5v6.9z"/>
<path d="M198.3 435.3l7 -3.5v6.9z"/>
<path d="M199.6 436.3l7 -3.5v6.9z"/>
<path d="M200.8 437.3l7 -3.5v6.9z"/>
<path d="M202.1 438.3l7 -3.5v6.9z"/>
<path d="M203.3 439.3l7 -3.5v6.9z"/>
<path d="M204.6 440.3l7 -3.5v6.9z"/>
<path d="M205.8 441.4l7 -3.5v6.9z"/>
<path d="M207.1 442.4l7 -3.5v6.9z"/>
<path d="M208.3 443.4l7 -3.5v6.9z"/>
<path d="M209.6 444.4l7 -3.5v6.9z"/>
<path d="M210.8 445.4l7 -3.5v6.9z"/>
<path d="M212.1 446.3l7 -3.5v6.9z"/>
<path d="M213.3 447.3l7 -3.5v6.9z"/>
<path d="M214.6 448.3l7 -3.5v6.9z"/>
<path d="M215.8 449.2l7 -3.5v6.9z"/>
<path d="M217.1 450.1l7 -3.5v6.9z"/>
<path d="M218.3 451l7 -3.5v6.9z"/>
<path d="M219.6 452l7 -3.5v6.9z"/>
<path d="M220.8 452.9l7 -3.5v6.9z"/>
<path d="M222.1 453.8l7 -3.5v6.9z"/>
<path d="M223.3 454.7l7 -3.5v6.9z"/>
<path d="M224.6 455.6l7 -3.5v6.9z"/>
<path d="M225.8 456.5l7 -3.5v6.9z"/>
<path d="M227.1 457.4l7 -3.5v6.9z"/>
<path d="M228.3 458.3l7 -3.5v6.9z"/>
<path d="M229.6 459.2l7 -3.5v6.9z"/>
<path d="M230.8 460.1l7 -3.5v6.9z"/>
<path d="M232.1 460.9l7 -3.5v6.9z"/>
<path d="M233.3 461.8l7 -3.5v6.9z"/>
<path d="M234.6 462.6l7 -3.5v6.9z"/>
<path d="M235.8 463.5l7 -3.5v6.9z"/>
<path d="M237.1 464.3l7 -3.5v6.9z"/>
<path d="M238.4 465.1l7 -3.5v6.9z"/>
<path d="M239.6 465.9l7 -3.5v6.9z"/>
<path d="M240.9 466.6l7 -3.5v6.9z"/>
<path d="M242.1 467.4l7 -3.5v6.9z"/>
<path d="M243.4 468.1l7 -3.5v6.9z"/>
<path d="M244.6 468.9l7 -3.5v6.9z"/>
<path d="M245.9 469.6l7 -3.5v6.9z"/>
<path d="M247.1 470.3l7 -3.5v6.9z"/>
<path d="M248.4 471l7 -3.5v6.9z"/>
<path d="M249.6 471.7l7 -3.5v6.9z"/>
<path d="M250.9 472.3l7 -3.5v6.9z"/>
<path d="M252.1 472.9l7 -3.5v6.9z"/>
<path d="M253.4 473.6l7 -3.5v6.9z"/>
<path d="M254.6 474.2l7 -3.5v6.9z"/>
<path d="M255.9 474.8l7 -3.5v6.9z"/>
<path d="M257.1 475.4l7 -3.5v6.9z"/>
<path d="M258.4 475.9l7 -3.5v6.9z"/>
<path d="M259.6 476.5l7 -3.5v6.9z"/>
<path d="M260.9 477l7 -3.5v6.9z"/>
<path d="M262.1 477.5l7 -3.5v6.9z"/>
<path d="M263.4 478l7 -3.5v6.9z"/>
<path d="M264.6 478.5l7 -3.5v6.9z"/>
<path d="M265.9 478.9l7 -3.5v6.9z"/>
<path d="M267.1 479.3l7 -3.5v6.9z"/>
<path d="M268.4 479.6l7 -3.5v6.9z"/>
<path d="M269.6 480l7 -3.5v6.9z"/>
<path d="M270.9 480.3l7 -3.5v6.9z"/>
<path d="M272.1 480.6l7 -3.5v6.9z"/>
<path d="M273.4 480.9l7 -3.5v6.9z"/>
<path d="M274.6 481.2l7 -3.5v6.9z"/>
<path d="M275.9 481.4l7 -3.5v6.9z"/>
<path d="M277.1 481.7l7 -3.5v6.9z"/>
<path d="M278.4 481.9l7 -3.5v6.9z"/>
<path d="M279.6 482.2l7 -3.5v6.9z"/>
<path d="M280.9 482.4l7 -3.5v6.9z"/>
<path d="M282.1 482.7l7 -3.5v6.9z"/>
<path d="M283.4 482.9l7 -3.5v6.9z"/>
<path d="M284.6 483.1l7 -3.5v6.9z"/>
<path d="M285.9 483.3l7 -3.5v6.9z"/>
<path d="M287.1 483.5l7 -3.5v6.9z"/>
<path d="M288.4 483.7l7 -3.5v6.9z"/>
<path d="M289.6 483.9l7 -3.5v6.9z"/>
<path d="M290.9 484.1l7 -3.5v6.9z"/>
<path d="M292.2 484.2l7 -3.5v6.9z"/>
<path d="M293.4 484.4l7 -3.5v6.9z"/>
<path d="M294.7 484.5l7 -3.5v6.9z"/>
<path d="M295.9 484.7l7 -3.5v6.9z"/>
<path d="M297.2 484.8l7 -3.5v6.9z"/>
<path d="M298.4 484.9l7 -3.5v6.9z"/>
<path d="M299.7 485l7 -3.5v6.9z"/>
<path d="M300.9 485.2l7 -3.5v6.9z"/>
<path d="M302.2 485.3l7 -3.5v6.9z"/>
<path d="M303.4 485.4l7 -3.5v6.9z"/>
<path d="M304.7 485.5l7 -3.5v6.9z"/>
<path d="M305.9 485.6l7 -3.5v6.9z"/>
<path d="M307.2 485.7l7 -3.5v6.9z"/>
<path d="M308.4 485.8l7 -3.5v6.9z"/>
<path d="M309.7 485.9l7 -3.5v6.9z"/>
<path d="M310.9 486l7 -3.5v6.9z"/>
<path d="M312.2 486.1l7 -3.5v6.9z"/>
<path d="M313.4 486.2l7 -3.5v6.9z"/>
<path d="M314.7 486.2l7 -3.5v6.9z"/>
<path d="M315.9 486.3l7 -3.5v6.9z"/>
<path d="M317.2 486.3l7 -3.5v6.9z"/>
<path d="M318.4 486.4l7 -3.5v6.9z"/>
<path d="M319.7 486.4l7 -3.5v6.9z"/>
<path d="M320.9 486.5l7 -3.5v6.9z"/>
<path d="M322.2 486.5l7 -3.5v6.9z"/>
<path d="M323.4 486.6l7 -3.5v6.9z"/>
<path d="M324.7 486.6l7 -3.5v6.9z"/>
<path d="M325.9 486.7l7 -3.5v6.9z"/>
<path d="M327.2 486.7l7 -3.5v6.9z"/>
<path d="M328.4 486.8l7 -3.5v6.9z"/>
<path d="M329.7 486.8l7 -3.5v6.9z"/>
<path d="M330.9 486.8l7 -3.5v6.9z"/>
<path d="M332.2 486.9l7 -3.5v6.9z"/>
<path d="M333.4 486.9l7 -3.5v6.9z"/>
<path d="M334.7 486.9l7 -3.5v6.9z"/>
<path d="M335.9 487l7 -3.5v6.9z"/>
<path d="M337.2 487l7 -3.5v6.9z"/>
<path d="M338.4 487l7 -3.5v6.9z"/>
<path d="M339.7 487.1l7 -3.5v6.9z"/>
<path d="M340.9 487.1l7 -3.5v6.9z"/>
<path d="M342.2 487.1l7 -3.5v6.9z"/>
<path d="M343.5 487.2l7 -3.5v6.9z"/>
<path d="M344.7 487.2l7 -3.5v6.9z"/>
<path d="M346 487.2l7 -3.5v6.9z"/>
<path d="M347.2 487.3l7 -3.5v6.9z"/>
<path d="M348.5 487.3l7 -3.5v6.9z"/>
<path d="M349.7 487.3l7 -3.5v6.9z"/>
<path d="M351 487.4l7 -3.5v6.9z"/>
<path d="M352.2 487.4l7 -3.5v6.9z"/>
<path d="M353.5 487.4l7 -3.5v6.9z"/>
<path d="M354.7 487.5l7 -3.5v6.9z"/>
<path d="M356 487.5l7 -3.5v6.9z"/>
<path d="M357.2 487.5l7 -3.5v6.9z"/>
<path d="M358.5 487.6l7 -3.5v6.9z"/>
<path d="M359.7 487.6l7 -3.5v6.9z"/>
<path d="M361 487.6l7 -3.5v6.9z"/>
<path d="M362.2 487.6l7 -3.5v6.9z"/>
<path d="M363.5 487.7l7 -3.5v6.9z"/>
<path d="M364.7 487.7l7 -3.5v6.9z"/>
<path d="M366 487.7l7 -3.5v6.9z"/>
<path d="M367.2 487.8l7 -3.5v6.9z"/>
<path d="M368.5 487.8l7 -3.5v6.9z"/>
<path d="M369.7 487.8l7 -3.5v6.9z"/>
<path d="M371 487.8l7 -3.5v6.9z"/>
<path d="M372.2 487.9l7 -3.5v6.9z"/>
<path d="M373.5 487.9l7 -3.5v6.9z"/>
<path d="M374.7 487.9l7 -3.5v6.9z"/>
<path d="M376 488l7 -3.5v6.9z"/>
<path d="M377.2 488l7 -3.5v6.9z"/>
<path d="M378.5 488l7 -3.5v6.9z"/>
<path d="M379.7 488.1l7 -3.5v6.9z"/>
<path d="M381 488.1l7 -3.5v6.9z"/>
<path d="M382.2 488.1l7 -3.5v6.9z"/>
<path d="M383.5 488.1l7 -3.5v6.9z"/>
<path d="M384.7 488.2l7 -3.5v6.9z"/>
<path d="M386 488.2l7 -3.5v6.9z"/>
<path d="M387.2 488.2l7 -3.5v6.9z"/>
<path d="M388.5 488.3l7 -3.5v6.9z"/>
<path d="M389.7 488.3l7 -3.5v6.9z"/>
<path d="M391 488.3l7 -3.5v6.9z"/>
<path d="M392.2 488.4l7 -3.5v6.9z"/>
<path d="M393.5 488.4l7 -3.5v6.9z"/>
<path d="M394.8 488.4l7 -3.5v6.9z"/>
<path d="M396 488.5l7 -3.5v6.9z"/>
<path d="M397.3 488.5l7 -3.5v6.9z"/>
<path d="M398.5 488.5l7 -3.5v6.9z"/></g>
</g>
<g style="font-family:'Liberation Serif',serif" filter="url(#nf)">
<rect x="69.4" y="245.6" width="348.2" height="258.2" fill="none" stroke="#000" stroke-width="1.3"/>
<path d="M80.5 503.8v-8.2M107.7 503.8v-4.6M134.9 503.8v-8.2M162.1 503.8v-4.6M189.3 503.8v-8.2M216.5 503.8v-4.6M243.7 503.8v-8.2M270.9 503.8v-4.6M298.1 503.8v-8.2M325.3 503.8v-4.6M352.5 503.8v-8.2M379.7 503.8v-4.6M406.9 503.8v-8.2M69.4 492.2h8.2M69.4 464.2h4.6M69.4 436.1h8.2M69.4 408.1h4.6M69.4 380h8.2M69.4 352h4.6M69.4 323.9h8.2M69.4 295.9h4.6M69.4 267.8h8.2" stroke="#000" stroke-width="1.2" fill="none"/>
<g font-size="18.5"><text x="80.5" y="525.6" text-anchor="middle">0</text>
<text x="134.9" y="525.6" text-anchor="middle">50</text>
<text x="189.3" y="525.6" text-anchor="middle">100</text>
<text x="243.7" y="525.6" text-anchor="middle">150</text>
<text x="298.1" y="525.6" text-anchor="middle">200</text>
<text x="352.5" y="525.6" text-anchor="middle">250</text>
<text x="406.9" y="525.6" text-anchor="middle">300</text>
<text x="64.6" y="498.4" text-anchor="end">0</text>
<text x="64.6" y="442.3" text-anchor="end">50</text>
<text x="64.6" y="386.2" text-anchor="end">100</text>
<text x="64.6" y="330.1" text-anchor="end">150</text>
<text x="64.6" y="274" text-anchor="end">200</text></g>

<text x="301.5" y="275.4" font-size="21">H = 10 kOe</text>
<text x="244" y="557.5" font-size="21" text-anchor="middle">T (K)</text>
<text transform="translate(24.5,430.5) rotate(-90)" font-size="21.2">M (emu mole<tspan font-size="13" dy="-11.3">-1</tspan><tspan dy="11.3">)</tspan></text>
<text transform="translate(331.6,373.6) rotate(64)" font-size="18.2" font-style="italic" text-anchor="middle">x = 0.0</text>
<text transform="translate(277.1,399.2) rotate(53.4)" font-size="18" font-style="italic" text-anchor="middle" fill="#ff0000">x = 0.05</text>
<text transform="translate(219.1,435) rotate(33)" font-size="18.2" font-style="italic" text-anchor="middle" fill="#0000ff">x = 0.10</text>
<text transform="translate(109.7,439.5) rotate(56)" font-size="18" font-style="italic" text-anchor="middle" fill="#008000">x = 0.20</text>
<text x="139.8" y="493.3" font-size="18" fill="#00ff00">x = 0.15</text>
<path d="M167.4 477.2L175.4 450.8" stroke="#00ff00" stroke-width="1.3" fill="none"/>
<path d="M177 443.6L178 452L172.9 449.8z" fill="#00ff00"/>

</g>
</svg>
</body>
</html>
